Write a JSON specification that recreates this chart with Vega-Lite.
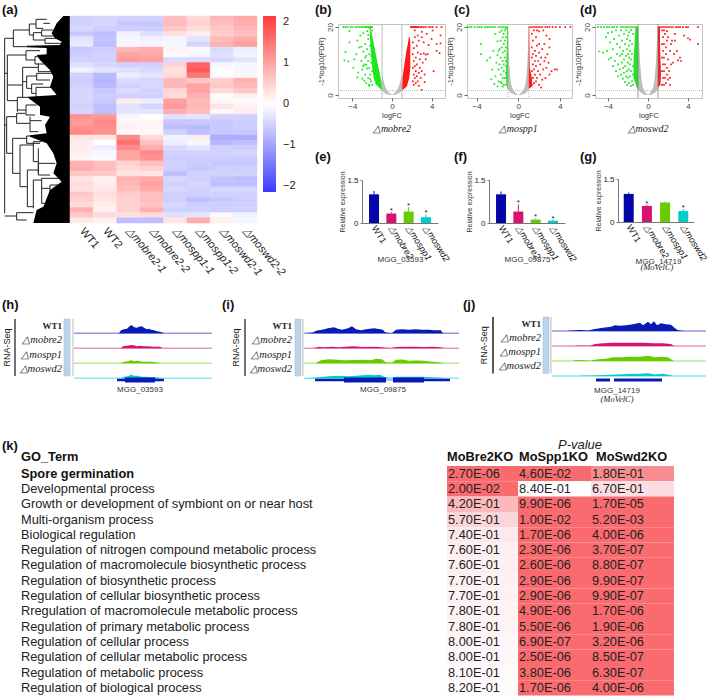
{"$schema":"https://vega.github.io/schema/vega-lite/v6.json","padding":0,"background":"white","bounds":"flush","spacing":0,
"datasets":{
"heat":[
{"r":1,"c":"WT1","v":-0.5},{"r":1,"c":"WT2","v":-0.45},{"r":1,"c":"△mobre2-1","v":-0.5},{"r":1,"c":"△mobre2-2","v":-0.5},{"r":1,"c":"△mospp1-1","v":0.7},{"r":1,"c":"△mospp1-2","v":0.45},{"r":1,"c":"△moswd2-1","v":0.8},{"r":1,"c":"△moswd2-2","v":0.95},
{"r":2,"c":"WT1","v":-0.5},{"r":2,"c":"WT2","v":-0.45},{"r":2,"c":"△mobre2-1","v":-0.6},{"r":2,"c":"△mobre2-2","v":-0.6},{"r":2,"c":"△mospp1-1","v":0.75},{"r":2,"c":"△mospp1-2","v":0.5},{"r":2,"c":"△moswd2-1","v":0.7},{"r":2,"c":"△moswd2-2","v":0.9},
{"r":3,"c":"WT1","v":-0.45},{"r":3,"c":"WT2","v":-0.55},{"r":3,"c":"△mobre2-1","v":-0.55},{"r":3,"c":"△mobre2-2","v":-0.55},{"r":3,"c":"△mospp1-1","v":0.6},{"r":3,"c":"△mospp1-2","v":0.4},{"r":3,"c":"△moswd2-1","v":0.6},{"r":3,"c":"△moswd2-2","v":0.8},
{"r":4,"c":"WT1","v":-0.6},{"r":4,"c":"WT2","v":-0.7},{"r":4,"c":"△mobre2-1","v":-0.15},{"r":4,"c":"△mobre2-2","v":-0.35},{"r":4,"c":"△mospp1-1","v":0.35},{"r":4,"c":"△mospp1-2","v":0.2},{"r":4,"c":"△moswd2-1","v":0.55},{"r":4,"c":"△moswd2-2","v":0.7},
{"r":5,"c":"WT1","v":-0.3},{"r":5,"c":"WT2","v":-0.65},{"r":5,"c":"△mobre2-1","v":-0.1},{"r":5,"c":"△mobre2-2","v":-0.15},{"r":5,"c":"△mospp1-1","v":-0.1},{"r":5,"c":"△mospp1-2","v":-0.3},{"r":5,"c":"△moswd2-1","v":0.75},{"r":5,"c":"△moswd2-2","v":0.9},
{"r":6,"c":"WT1","v":-0.25},{"r":6,"c":"WT2","v":-0.7},{"r":6,"c":"△mobre2-1","v":-0.1},{"r":6,"c":"△mobre2-2","v":-0.1},{"r":6,"c":"△mospp1-1","v":-0.1},{"r":6,"c":"△mospp1-2","v":-0.45},{"r":6,"c":"△moswd2-1","v":0.85},{"r":6,"c":"△moswd2-2","v":1.05},
{"r":7,"c":"WT1","v":-0.6},{"r":7,"c":"WT2","v":-0.55},{"r":7,"c":"△mobre2-1","v":0.8},{"r":7,"c":"△mobre2-2","v":0.9},{"r":7,"c":"△mospp1-1","v":0.15},{"r":7,"c":"△mospp1-2","v":0.05},{"r":7,"c":"△moswd2-1","v":-0.4},{"r":7,"c":"△moswd2-2","v":-0.2},
{"r":8,"c":"WT1","v":-0.55},{"r":8,"c":"WT2","v":-0.5},{"r":8,"c":"△mobre2-1","v":1.0},{"r":8,"c":"△mobre2-2","v":0.95},{"r":8,"c":"△mospp1-1","v":-0.05},{"r":8,"c":"△mospp1-2","v":-0.1},{"r":8,"c":"△moswd2-1","v":-0.35},{"r":8,"c":"△moswd2-2","v":-0.15},
{"r":9,"c":"WT1","v":-0.5},{"r":9,"c":"WT2","v":-0.5},{"r":9,"c":"△mobre2-1","v":1.1},{"r":9,"c":"△mobre2-2","v":1.05},{"r":9,"c":"△mospp1-1","v":-0.4},{"r":9,"c":"△mospp1-2","v":-0.4},{"r":9,"c":"△moswd2-1","v":-0.45},{"r":9,"c":"△moswd2-2","v":-0.3},
{"r":10,"c":"WT1","v":-0.35},{"r":10,"c":"WT2","v":-0.45},{"r":10,"c":"△mobre2-1","v":-0.5},{"r":10,"c":"△mobre2-2","v":-0.5},{"r":10,"c":"△mospp1-1","v":0.5},{"r":10,"c":"△mospp1-2","v":1.7},{"r":10,"c":"△moswd2-1","v":-0.1},{"r":10,"c":"△moswd2-2","v":-0.1},
{"r":11,"c":"WT1","v":-0.15},{"r":11,"c":"WT2","v":-0.3},{"r":11,"c":"△mobre2-1","v":-0.35},{"r":11,"c":"△mobre2-2","v":-0.4},{"r":11,"c":"△mospp1-1","v":0.35},{"r":11,"c":"△mospp1-2","v":1.8},{"r":11,"c":"△moswd2-1","v":0},{"r":11,"c":"△moswd2-2","v":-0.1},
{"r":12,"c":"WT1","v":-0.5},{"r":12,"c":"WT2","v":-0.75},{"r":12,"c":"△mobre2-1","v":-0.2},{"r":12,"c":"△mobre2-2","v":-0.3},{"r":12,"c":"△mospp1-1","v":0.4},{"r":12,"c":"△mospp1-2","v":1.5},{"r":12,"c":"△moswd2-1","v":-0.05},{"r":12,"c":"△moswd2-2","v":0.1},
{"r":13,"c":"WT1","v":-0.55},{"r":13,"c":"WT2","v":-0.8},{"r":13,"c":"△mobre2-1","v":-0.4},{"r":13,"c":"△mobre2-2","v":-0.45},{"r":13,"c":"△mospp1-1","v":0.8},{"r":13,"c":"△mospp1-2","v":0.6},{"r":13,"c":"△moswd2-1","v":0.55},{"r":13,"c":"△moswd2-2","v":0.85},
{"r":14,"c":"WT1","v":-0.5},{"r":14,"c":"WT2","v":-0.75},{"r":14,"c":"△mobre2-1","v":-0.5},{"r":14,"c":"△mobre2-2","v":-0.45},{"r":14,"c":"△mospp1-1","v":0.8},{"r":14,"c":"△mospp1-2","v":1.0},{"r":14,"c":"△moswd2-1","v":0.6},{"r":14,"c":"△moswd2-2","v":0.8},
{"r":15,"c":"WT1","v":-0.45},{"r":15,"c":"WT2","v":-0.6},{"r":15,"c":"△mobre2-1","v":-0.4},{"r":15,"c":"△mobre2-2","v":-0.5},{"r":15,"c":"△mospp1-1","v":0.45},{"r":15,"c":"△mospp1-2","v":1.0},{"r":15,"c":"△moswd2-1","v":0.4},{"r":15,"c":"△moswd2-2","v":0.6},
{"r":16,"c":"WT1","v":-0.45},{"r":16,"c":"WT2","v":-0.55},{"r":16,"c":"△mobre2-1","v":-0.5},{"r":16,"c":"△mobre2-2","v":-0.5},{"r":16,"c":"△mospp1-1","v":0.4},{"r":16,"c":"△mospp1-2","v":0.85},{"r":16,"c":"△moswd2-1","v":0.05},{"r":16,"c":"△moswd2-2","v":0.15},
{"r":17,"c":"WT1","v":-0.45},{"r":17,"c":"WT2","v":-0.6},{"r":17,"c":"△mobre2-1","v":0.2},{"r":17,"c":"△mobre2-2","v":-0.2},{"r":17,"c":"△mospp1-1","v":1.05},{"r":17,"c":"△mospp1-2","v":0.75},{"r":17,"c":"△moswd2-1","v":0.1},{"r":17,"c":"△moswd2-2","v":-0.05},
{"r":18,"c":"WT1","v":-0.5},{"r":18,"c":"WT2","v":-0.7},{"r":18,"c":"△mobre2-1","v":-0.3},{"r":18,"c":"△mobre2-2","v":-0.45},{"r":18,"c":"△mospp1-1","v":1.1},{"r":18,"c":"△mospp1-2","v":0.8},{"r":18,"c":"△moswd2-1","v":0.3},{"r":18,"c":"△moswd2-2","v":0.15},
{"r":19,"c":"WT1","v":-0.45},{"r":19,"c":"WT2","v":-0.7},{"r":19,"c":"△mobre2-1","v":-0.3},{"r":19,"c":"△mobre2-2","v":-0.3},{"r":19,"c":"△mospp1-1","v":0.9},{"r":19,"c":"△mospp1-2","v":0.7},{"r":19,"c":"△moswd2-1","v":0.1},{"r":19,"c":"△moswd2-2","v":0.2},
{"r":20,"c":"WT1","v":1.2},{"r":20,"c":"WT2","v":1.15},{"r":20,"c":"△mobre2-1","v":-0.1},{"r":20,"c":"△mobre2-2","v":0},{"r":20,"c":"△mospp1-1","v":-0.35},{"r":20,"c":"△mospp1-2","v":-0.3},{"r":20,"c":"△moswd2-1","v":-0.5},{"r":20,"c":"△moswd2-2","v":-0.5},
{"r":21,"c":"WT1","v":1.1},{"r":21,"c":"WT2","v":1.3},{"r":21,"c":"△mobre2-1","v":0.1},{"r":21,"c":"△mobre2-2","v":0.1},{"r":21,"c":"△mospp1-1","v":-0.6},{"r":21,"c":"△mospp1-2","v":-0.6},{"r":21,"c":"△moswd2-1","v":-0.6},{"r":21,"c":"△moswd2-2","v":-0.55},
{"r":22,"c":"WT1","v":1.2},{"r":22,"c":"WT2","v":1.25},{"r":22,"c":"△mobre2-1","v":0.15},{"r":22,"c":"△mobre2-2","v":0.1},{"r":22,"c":"△mospp1-1","v":-0.7},{"r":22,"c":"△mospp1-2","v":-0.75},{"r":22,"c":"△moswd2-1","v":-0.6},{"r":22,"c":"△moswd2-2","v":-0.55},
{"r":23,"c":"WT1","v":1.3},{"r":23,"c":"WT2","v":1.2},{"r":23,"c":"△mobre2-1","v":0.05},{"r":23,"c":"△mobre2-2","v":0.1},{"r":23,"c":"△mospp1-1","v":-0.5},{"r":23,"c":"△mospp1-2","v":-0.7},{"r":23,"c":"△moswd2-1","v":-0.6},{"r":23,"c":"△moswd2-2","v":-0.6},
{"r":24,"c":"WT1","v":0.3},{"r":24,"c":"WT2","v":0.3},{"r":24,"c":"△mobre2-1","v":1.3},{"r":24,"c":"△mobre2-2","v":0.4},{"r":24,"c":"△mospp1-1","v":-0.15},{"r":24,"c":"△mospp1-2","v":0.2},{"r":24,"c":"△moswd2-1","v":-0.9},{"r":24,"c":"△moswd2-2","v":-0.9},
{"r":25,"c":"WT1","v":0.2},{"r":25,"c":"WT2","v":0},{"r":25,"c":"△mobre2-1","v":1.55},{"r":25,"c":"△mobre2-2","v":0.7},{"r":25,"c":"△mospp1-1","v":-0.2},{"r":25,"c":"△mospp1-2","v":-0.1},{"r":25,"c":"△moswd2-1","v":-0.8},{"r":25,"c":"△moswd2-2","v":-0.7},
{"r":26,"c":"WT1","v":0.2},{"r":26,"c":"WT2","v":-0.2},{"r":26,"c":"△mobre2-1","v":1.3},{"r":26,"c":"△mobre2-2","v":0.9},{"r":26,"c":"△mospp1-1","v":-0.4},{"r":26,"c":"△mospp1-2","v":-0.3},{"r":26,"c":"△moswd2-1","v":-0.5},{"r":26,"c":"△moswd2-2","v":-0.55},
{"r":27,"c":"WT1","v":0.15},{"r":27,"c":"WT2","v":-0.1},{"r":27,"c":"△mobre2-1","v":1.0},{"r":27,"c":"△mobre2-2","v":1.3},{"r":27,"c":"△mospp1-1","v":-0.5},{"r":27,"c":"△mospp1-2","v":-0.5},{"r":27,"c":"△moswd2-1","v":-0.5},{"r":27,"c":"△moswd2-2","v":-0.45},
{"r":28,"c":"WT1","v":0.1},{"r":28,"c":"WT2","v":-0.05},{"r":28,"c":"△mobre2-1","v":1.0},{"r":28,"c":"△mobre2-2","v":1.2},{"r":28,"c":"△mospp1-1","v":-0.55},{"r":28,"c":"△mospp1-2","v":-0.55},{"r":28,"c":"△moswd2-1","v":-0.55},{"r":28,"c":"△moswd2-2","v":-0.55},
{"r":29,"c":"WT1","v":0.85},{"r":29,"c":"WT2","v":0.7},{"r":29,"c":"△mobre2-1","v":0.5},{"r":29,"c":"△mobre2-2","v":0.7},{"r":29,"c":"△mospp1-1","v":-0.5},{"r":29,"c":"△mospp1-2","v":-0.55},{"r":29,"c":"△moswd2-1","v":-0.6},{"r":29,"c":"△moswd2-2","v":-0.6},
{"r":30,"c":"WT1","v":0.9},{"r":30,"c":"WT2","v":0.75},{"r":30,"c":"△mobre2-1","v":0.4},{"r":30,"c":"△mobre2-2","v":0.5},{"r":30,"c":"△mospp1-1","v":-0.5},{"r":30,"c":"△mospp1-2","v":-0.6},{"r":30,"c":"△moswd2-1","v":-0.55},{"r":30,"c":"△moswd2-2","v":-0.55},
{"r":31,"c":"WT1","v":0.6},{"r":31,"c":"WT2","v":0.6},{"r":31,"c":"△mobre2-1","v":0.3},{"r":31,"c":"△mobre2-2","v":0.3},{"r":31,"c":"△mospp1-1","v":-0.7},{"r":31,"c":"△mospp1-2","v":-0.5},{"r":31,"c":"△moswd2-1","v":-0.5},{"r":31,"c":"△moswd2-2","v":-0.5},
{"r":32,"c":"WT1","v":0.3},{"r":32,"c":"WT2","v":0.15},{"r":32,"c":"△mobre2-1","v":0.85},{"r":32,"c":"△mobre2-2","v":0.95},{"r":32,"c":"△mospp1-1","v":-0.45},{"r":32,"c":"△mospp1-2","v":-0.5},{"r":32,"c":"△moswd2-1","v":-0.65},{"r":32,"c":"△moswd2-2","v":-0.7},
{"r":33,"c":"WT1","v":0.4},{"r":33,"c":"WT2","v":0.2},{"r":33,"c":"△mobre2-1","v":0.8},{"r":33,"c":"△mobre2-2","v":1.05},{"r":33,"c":"△mospp1-1","v":-0.5},{"r":33,"c":"△mospp1-2","v":-0.45},{"r":33,"c":"△moswd2-1","v":-0.7},{"r":33,"c":"△moswd2-2","v":-0.7},
{"r":34,"c":"WT1","v":0.35},{"r":34,"c":"WT2","v":0.25},{"r":34,"c":"△mobre2-1","v":0.7},{"r":34,"c":"△mobre2-2","v":0.95},{"r":34,"c":"△mospp1-1","v":-0.45},{"r":34,"c":"△mospp1-2","v":-0.5},{"r":34,"c":"△moswd2-1","v":-0.45},{"r":34,"c":"△moswd2-2","v":-0.45},
{"r":35,"c":"WT1","v":0.6},{"r":35,"c":"WT2","v":0.35},{"r":35,"c":"△mobre2-1","v":0.55},{"r":35,"c":"△mobre2-2","v":0.7},{"r":35,"c":"△mospp1-1","v":-0.5},{"r":35,"c":"△mospp1-2","v":-0.5},{"r":35,"c":"△moswd2-1","v":-0.5},{"r":35,"c":"△moswd2-2","v":-0.5},
{"r":36,"c":"WT1","v":0.5},{"r":36,"c":"WT2","v":0.3},{"r":36,"c":"△mobre2-1","v":0.5},{"r":36,"c":"△mobre2-2","v":0.7},{"r":36,"c":"△mospp1-1","v":-0.55},{"r":36,"c":"△mospp1-2","v":-0.7},{"r":36,"c":"△moswd2-1","v":-0.6},{"r":36,"c":"△moswd2-2","v":-0.55},
{"r":37,"c":"WT1","v":0.4},{"r":37,"c":"WT2","v":0.2},{"r":37,"c":"△mobre2-1","v":0.5},{"r":37,"c":"△mobre2-2","v":0.65},{"r":37,"c":"△mospp1-1","v":-0.45},{"r":37,"c":"△mospp1-2","v":-0.55},{"r":37,"c":"△moswd2-1","v":-0.55},{"r":37,"c":"△moswd2-2","v":-0.5},
{"r":38,"c":"WT1","v":0.85},{"r":38,"c":"WT2","v":0.15},{"r":38,"c":"△mobre2-1","v":0.5},{"r":38,"c":"△mobre2-2","v":0.85},{"r":38,"c":"△mospp1-1","v":-0.5},{"r":38,"c":"△mospp1-2","v":-0.5},{"r":38,"c":"△moswd2-1","v":-0.55},{"r":38,"c":"△moswd2-2","v":-0.5},
{"r":39,"c":"WT1","v":0.6},{"r":39,"c":"WT2","v":0.4},{"r":39,"c":"△mobre2-1","v":0.35},{"r":39,"c":"△mobre2-2","v":0.4},{"r":39,"c":"△mospp1-1","v":-0.35},{"r":39,"c":"△mospp1-2","v":-0.3},{"r":39,"c":"△moswd2-1","v":0.05},{"r":39,"c":"△moswd2-2","v":-0.15},
{"r":40,"c":"WT1","v":0.25},{"r":40,"c":"WT2","v":0.15},{"r":40,"c":"△mobre2-1","v":-0.7},{"r":40,"c":"△mobre2-2","v":-0.7},{"r":40,"c":"△mospp1-1","v":0.3},{"r":40,"c":"△mospp1-2","v":0.9},{"r":40,"c":"△moswd2-1","v":0.15},{"r":40,"c":"△moswd2-2","v":-0.1}
],
"tree":[
{"x":14,"x2":14,"y":85,"y2":610},{"x":14,"x2":40,"y":85,"y2":85},{"x":40,"x2":40,"y":60,"y2":110},{"x":40,"x2":88,"y":60,"y2":60},{"x":40,"x2":80,"y":110,"y2":110},{"x":88,"x2":88,"y":42,"y2":75},{"x":88,"x2":108,"y":42,"y2":42},{"x":88,"x2":100,"y":75,"y2":75},{"x":108,"x2":108,"y":28,"y2":55},{"x":108,"x2":140,"y":28,"y2":28},{"x":108,"x2":130,"y":55,"y2":55},{"x":130,"x2":150,"y":40,"y2":40},{"x":100,"x2":100,"y":68,"y2":90},{"x":100,"x2":125,"y":68,"y2":68},{"x":100,"x2":135,"y":90,"y2":90},{"x":125,"x2":125,"y":60,"y2":78},{"x":125,"x2":160,"y":60,"y2":60},{"x":125,"x2":170,"y":78,"y2":78},{"x":135,"x2":135,"y":85,"y2":100},{"x":135,"x2":185,"y":85,"y2":85},{"x":135,"x2":190,"y":100,"y2":100},
{"x":14,"x2":22,"y":190,"y2":190},{"x":22,"x2":22,"y":135,"y2":272},{"x":22,"x2":78,"y":135,"y2":135},{"x":78,"x2":78,"y":122,"y2":150},{"x":78,"x2":120,"y":122,"y2":122},{"x":78,"x2":105,"y":150,"y2":150},{"x":105,"x2":105,"y":140,"y2":162},{"x":105,"x2":150,"y":140,"y2":140},{"x":105,"x2":140,"y":162,"y2":162},{"x":22,"x2":68,"y":225,"y2":225},{"x":68,"x2":68,"y":172,"y2":262},{"x":68,"x2":115,"y":172,"y2":172},{"x":68,"x2":80,"y":215,"y2":215},{"x":115,"x2":115,"y":160,"y2":185},{"x":115,"x2":170,"y":185,"y2":185},{"x":80,"x2":80,"y":198,"y2":235},{"x":80,"x2":110,"y":198,"y2":198},{"x":80,"x2":95,"y":235,"y2":235},{"x":110,"x2":110,"y":190,"y2":210},{"x":110,"x2":160,"y":190,"y2":190},{"x":110,"x2":150,"y":210,"y2":210},{"x":95,"x2":95,"y":222,"y2":250},{"x":95,"x2":130,"y":222,"y2":222},{"x":95,"x2":108,"y":250,"y2":250},{"x":108,"x2":108,"y":232,"y2":265},{"x":108,"x2":165,"y":232,"y2":232},{"x":108,"x2":160,"y":265,"y2":265},{"x":22,"x2":52,"y":272,"y2":272},{"x":52,"x2":52,"y":262,"y2":305},{"x":52,"x2":88,"y":262,"y2":262},{"x":52,"x2":78,"y":300,"y2":300},{"x":78,"x2":78,"y":285,"y2":315},{"x":78,"x2":110,"y":285,"y2":285},{"x":78,"x2":105,"y":315,"y2":315},
{"x":14,"x2":20,"y":345,"y2":345},{"x":20,"x2":20,"y":320,"y2":430},{"x":20,"x2":50,"y":320,"y2":320},{"x":50,"x2":50,"y":310,"y2":340},{"x":50,"x2":75,"y":310,"y2":310},{"x":50,"x2":90,"y":340,"y2":340},{"x":90,"x2":90,"y":320,"y2":365},{"x":90,"x2":125,"y":332,"y2":332},{"x":90,"x2":115,"y":365,"y2":365},{"x":20,"x2":38,"y":430,"y2":430},{"x":38,"x2":38,"y":385,"y2":490},{"x":38,"x2":80,"y":385,"y2":385},{"x":80,"x2":80,"y":378,"y2":400},{"x":80,"x2":130,"y":378,"y2":378},{"x":80,"x2":120,"y":400,"y2":400},{"x":38,"x2":60,"y":490,"y2":490},{"x":60,"x2":60,"y":405,"y2":530},{"x":60,"x2":100,"y":405,"y2":405},{"x":100,"x2":100,"y":395,"y2":455},{"x":100,"x2":125,"y":395,"y2":395},{"x":100,"x2":115,"y":455,"y2":455},{"x":115,"x2":115,"y":415,"y2":490},{"x":60,"x2":82,"y":530,"y2":530},{"x":82,"x2":82,"y":480,"y2":590},{"x":82,"x2":115,"y":480,"y2":480},{"x":115,"x2":115,"y":460,"y2":495},{"x":115,"x2":165,"y":460,"y2":460},{"x":115,"x2":150,"y":495,"y2":495},{"x":82,"x2":100,"y":590,"y2":590},{"x":100,"x2":100,"y":510,"y2":595},{"x":100,"x2":125,"y":510,"y2":510},{"x":125,"x2":125,"y":505,"y2":580},{"x":125,"x2":180,"y":505,"y2":505},{"x":125,"x2":150,"y":535,"y2":535},{"x":150,"x2":150,"y":525,"y2":575},{"x":150,"x2":185,"y":525,"y2":525},{"x":150,"x2":170,"y":575,"y2":575},{"x":125,"x2":140,"y":580,"y2":580},
{"x":14,"x2":50,"y":618,"y2":618},{"x":50,"x2":50,"y":608,"y2":630},{"x":50,"x2":100,"y":608,"y2":608},{"x":50,"x2":80,"y":630,"y2":630}
],
"leaf":[{"y":18,"x":190},{"y":40,"x":170},{"y":70,"x":155},{"y":85,"x":165},{"y":95,"x":185},{"y":105,"x":180},{"y":107,"x":80},{"y":112,"x":80},{"y":114,"x":140},{"y":133,"x":140},{"y":135,"x":110},{"y":150,"x":120},{"y":180,"x":150},{"y":200,"x":160},{"y":230,"x":150},{"y":255,"x":170},{"y":260,"x":85},{"y":264,"x":85},{"y":290,"x":120},{"y":315,"x":120},{"y":320,"x":150},{"y":345,"x":135},{"y":370,"x":140},{"y":376,"x":90},{"y":380,"x":90},{"y":400,"x":140},{"y":430,"x":160},{"y":460,"x":170},{"y":490,"x":160},{"y":515,"x":185},{"y":540,"x":150},{"y":590,"x":130},{"y":600,"x":110},{"y":639,"x":100}],
"bArea":[{"s":"n1","k":"ns","y":0,"a":-0.3,"b":0},{"s":"n1","k":"ns","y":0.5,"a":-0.7,"b":-0.25},{"s":"n1","k":"ns","y":1.3,"a":-1,"b":-0.5},{"s":"n1","k":"ns","y":3,"a":-1,"b":-0.75},{"s":"n1","k":"ns","y":5,"a":-1,"b":-0.92},{"s":"n1","k":"ns","y":6,"a":-1,"b":-1},{"s":"n2","k":"ns","y":0,"a":0.3,"b":0},{"s":"n2","k":"ns","y":0.5,"a":0.7,"b":0.25},{"s":"n2","k":"ns","y":1.3,"a":1,"b":0.5},{"s":"n2","k":"ns","y":3,"a":1,"b":0.75},{"s":"n2","k":"ns","y":5,"a":1,"b":0.92},{"s":"n2","k":"ns","y":6,"a":1,"b":1},
{"s":"d","k":"down","y":1.3,"a":-1,"b":-1},{"s":"d","k":"down","y":3,"a":-1.6,"b":-1},{"s":"d","k":"down","y":5,"a":-1.85,"b":-1.15},{"s":"d","k":"down","y":8,"a":-2,"b":-1.35},{"s":"d","k":"down","y":10,"a":-2.05,"b":-1.5},{"s":"d","k":"down","y":13,"a":-2.15,"b":-1.7},{"s":"d","k":"down","y":16,"a":-2.2,"b":-1.9},{"s":"d","k":"down","y":19,"a":-2.25,"b":-2.1},
{"s":"u","k":"up","y":1.3,"a":1,"b":1},{"s":"u","k":"up","y":2.5,"a":1.5,"b":1},{"s":"u","k":"up","y":5,"a":1.75,"b":1.05},{"s":"u","k":"up","y":8,"a":1.85,"b":1.2},{"s":"u","k":"up","y":10,"a":1.85,"b":1.3},{"s":"u","k":"up","y":13,"a":1.85,"b":1.45},{"s":"u","k":"up","y":15,"a":1.85,"b":1.6},{"s":"u","k":"up","y":17,"a":1.8,"b":1.7}],
"cArea":[{"s":"n1","k":"ns","y":0,"a":-0.3,"b":-0.02},{"s":"n1","k":"ns","y":0.6,"a":-0.7,"b":-0.25},{"s":"n1","k":"ns","y":1.5,"a":-1,"b":-0.5},{"s":"n1","k":"ns","y":3,"a":-1,"b":-0.68},{"s":"n1","k":"ns","y":6,"a":-1,"b":-0.8},{"s":"n1","k":"ns","y":10,"a":-1,"b":-0.88},{"s":"n1","k":"ns","y":15,"a":-1,"b":-0.95},{"s":"n1","k":"ns","y":20,"a":-1,"b":-0.98},{"s":"n2","k":"ns","y":0,"a":0.3,"b":0.02},{"s":"n2","k":"ns","y":0.6,"a":0.7,"b":0.25},{"s":"n2","k":"ns","y":1.5,"a":1,"b":0.5},{"s":"n2","k":"ns","y":3,"a":1,"b":0.68},{"s":"n2","k":"ns","y":6,"a":1,"b":0.8},{"s":"n2","k":"ns","y":10,"a":1,"b":0.88},{"s":"n2","k":"ns","y":15,"a":1,"b":0.95},{"s":"n2","k":"ns","y":20,"a":1,"b":0.98},
{"s":"d","k":"down","y":2,"a":-1.08,"b":-1},{"s":"d","k":"down","y":5,"a":-1.2,"b":-1},{"s":"d","k":"down","y":10,"a":-1.15,"b":-1},{"s":"d","k":"down","y":15,"a":-1.1,"b":-1},{"s":"d","k":"down","y":20,"a":-1.1,"b":-1},
{"s":"u","k":"up","y":1.8,"a":1,"b":1},{"s":"u","k":"up","y":2.5,"a":1.35,"b":1},{"s":"u","k":"up","y":5,"a":1.3,"b":1},{"s":"u","k":"up","y":8,"a":1.1,"b":1},{"s":"u","k":"up","y":20,"a":1.05,"b":1},
{"s":"td","k":"down","y":19.8,"a":-2,"b":-1},{"s":"td","k":"down","y":20.2,"a":-2,"b":-1},{"s":"tu","k":"up","y":19.8,"a":1,"b":2.4},{"s":"tu","k":"up","y":20.2,"a":1,"b":2.4}],
"dArea":[{"s":"n1","k":"ns","y":0,"a":-0.3,"b":-0.02},{"s":"n1","k":"ns","y":0.6,"a":-0.65,"b":-0.2},{"s":"n1","k":"ns","y":1.5,"a":-1,"b":-0.42},{"s":"n1","k":"ns","y":3,"a":-1,"b":-0.58},{"s":"n1","k":"ns","y":6,"a":-1,"b":-0.7},{"s":"n1","k":"ns","y":10,"a":-1,"b":-0.8},{"s":"n1","k":"ns","y":15,"a":-1,"b":-0.88},{"s":"n1","k":"ns","y":20,"a":-1,"b":-0.95},{"s":"n2","k":"ns","y":0,"a":0.3,"b":0.02},{"s":"n2","k":"ns","y":0.6,"a":0.65,"b":0.2},{"s":"n2","k":"ns","y":1.5,"a":1,"b":0.42},{"s":"n2","k":"ns","y":3,"a":1,"b":0.58},{"s":"n2","k":"ns","y":6,"a":1,"b":0.7},{"s":"n2","k":"ns","y":10,"a":1,"b":0.8},{"s":"n2","k":"ns","y":15,"a":1,"b":0.88},{"s":"n2","k":"ns","y":20,"a":1,"b":0.95},
{"s":"d","k":"down","y":2,"a":-1.1,"b":-1},{"s":"d","k":"down","y":5,"a":-1.45,"b":-1},{"s":"d","k":"down","y":10,"a":-1.45,"b":-1},{"s":"d","k":"down","y":15,"a":-1.35,"b":-1},{"s":"d","k":"down","y":20,"a":-1.25,"b":-1},
{"s":"u","k":"up","y":2.2,"a":1,"b":1},{"s":"u","k":"up","y":3,"a":1.25,"b":1},{"s":"u","k":"up","y":6,"a":1.3,"b":1},{"s":"u","k":"up","y":10,"a":1.25,"b":1},{"s":"u","k":"up","y":15,"a":1.2,"b":1},{"s":"u","k":"up","y":20,"a":1.2,"b":1},
{"s":"td","k":"down","y":19.8,"a":-2.8,"b":-1},{"s":"td","k":"down","y":20.2,"a":-2.8,"b":-1},{"s":"tu","k":"up","y":19.8,"a":1,"b":2.6},{"s":"tu","k":"up","y":20.2,"a":1,"b":2.6}],
"bPts":[{"x":-4.8,"y":10.2,"k":"down"},{"x":-4.7,"y":12.7,"k":"down"},{"x":-4.4,"y":9.9,"k":"down"},{"x":-4.3,"y":18.8,"k":"down"},{"x":-4.3,"y":15.5,"k":"down"},{"x":-3.9,"y":8,"k":"down"},{"x":-3.8,"y":10.5,"k":"down"},{"x":-3.6,"y":12,"k":"down"},{"x":-3.5,"y":16,"k":"down"},{"x":-3.4,"y":6.6,"k":"down"},{"x":-3.3,"y":14,"k":"down"},{"x":-3.2,"y":17.5,"k":"down"},{"x":-3.1,"y":10,"k":"down"},{"x":-3,"y":7.5,"k":"down"},{"x":-3,"y":4.8,"k":"down"},{"x":-2.9,"y":12.8,"k":"down"},{"x":-2.9,"y":18.2,"k":"down"},{"x":-2.8,"y":9,"k":"down"},{"x":-2.7,"y":6,"k":"down"},{"x":-2.7,"y":15,"k":"down"},{"x":-2.6,"y":11.5,"k":"down"},{"x":-2.6,"y":3.5,"k":"down"},{"x":-2.5,"y":7.8,"k":"down"},{"x":-2.5,"y":18.8,"k":"down"},{"x":-2.5,"y":13.5,"k":"down"},{"x":-2.4,"y":5,"k":"down"},{"x":-2.4,"y":10,"k":"down"},{"x":-2.4,"y":16.5,"k":"down"},{"x":-2.3,"y":8,"k":"down"},{"x":-2.3,"y":3,"k":"down"},{"x":-2.3,"y":12,"k":"down"},{"x":-2.2,"y":19.5,"k":"down"},{"x":-2.2,"y":6,"k":"down"},{"x":-2.2,"y":14.5,"k":"down"},{"x":-2.1,"y":9.5,"k":"down"},{"x":-2.1,"y":17,"k":"down"},{"x":-2.1,"y":4,"k":"down"},{"x":-2.1,"y":11.5,"k":"down"},{"x":-2,"y":19,"k":"down"},{"x":-2,"y":7,"k":"down"},{"x":-2,"y":3,"k":"down"},{"x":-2.6,"y":8.9,"k":"down"},{"x":-3.5,"y":5.2,"k":"down"},{"x":-2.8,"y":4.2,"k":"down"},{"x":-3.1,"y":14.2,"k":"down"},{"x":-2.3,"y":2.7,"k":"down"},{"x":-2.7,"y":11,"k":"down"},{"x":-2.4,"y":17.7,"k":"down"},{"x":-2.9,"y":8.5,"k":"down"},{"x":-2.2,"y":4.6,"k":"down"},
{"x":2.1,"y":4,"k":"up"},{"x":2.1,"y":8,"k":"up"},{"x":2.1,"y":12,"k":"up"},{"x":2.1,"y":15.5,"k":"up"},{"x":2.2,"y":3,"k":"up"},{"x":2.2,"y":6,"k":"up"},{"x":2.2,"y":10,"k":"up"},{"x":2.2,"y":13.8,"k":"up"},{"x":2.3,"y":5,"k":"up"},{"x":2.3,"y":8.5,"k":"up"},{"x":2.3,"y":17,"k":"up"},{"x":2.4,"y":3.5,"k":"up"},{"x":2.4,"y":7,"k":"up"},{"x":2.4,"y":11,"k":"up"},{"x":2.5,"y":5.5,"k":"up"},{"x":2.5,"y":9,"k":"up"},{"x":2.5,"y":14.5,"k":"up"},{"x":2.6,"y":4,"k":"up"},{"x":2.6,"y":12.5,"k":"up"},{"x":2.7,"y":6.5,"k":"up"},{"x":2.7,"y":16,"k":"up"},{"x":2.8,"y":8,"k":"up"},{"x":2.8,"y":10.5,"k":"up"},{"x":2.9,"y":5,"k":"up"},{"x":2.9,"y":12,"k":"up"},{"x":3,"y":1.5,"k":"up"},{"x":3,"y":7,"k":"up"},{"x":3,"y":18.6,"k":"up"},{"x":3.1,"y":9.5,"k":"up"},{"x":3.2,"y":12.2,"k":"up"},{"x":3.2,"y":15.5,"k":"up"},{"x":3.3,"y":6,"k":"up"},{"x":3.4,"y":10.5,"k":"up"},{"x":3.5,"y":18,"k":"up"},{"x":3.6,"y":12,"k":"up"},{"x":3.7,"y":14.7,"k":"up"},{"x":4,"y":16.5,"k":"up"},{"x":4.1,"y":19,"k":"up"},{"x":4.2,"y":7,"k":"up"},{"x":4.5,"y":15,"k":"up"},{"x":4.9,"y":17.5,"k":"up"},{"x":4.9,"y":15.2,"k":"up"},{"x":4.8,"y":12.3,"k":"up"},{"x":4.5,"y":13,"k":"up"},{"x":3,"y":17,"k":"up"},{"x":2.6,"y":17.5,"k":"up"},{"x":2.3,"y":19,"k":"up"},{"x":2.7,"y":2.7,"k":"up"},{"x":3.3,"y":3.8,"k":"up"},{"x":3.4,"y":11.9,"k":"up"},
{"x":-4.9,"y":20,"k":"down"},{"x":-4.7,"y":20,"k":"down"},{"x":-4.5,"y":20,"k":"down"},{"x":-4.2,"y":20,"k":"down"},{"x":-4,"y":20,"k":"down"},{"x":-3.7,"y":20,"k":"down"},{"x":-3.5,"y":20,"k":"down"},{"x":-3.3,"y":20,"k":"down"},{"x":-3.1,"y":20,"k":"down"},{"x":-3,"y":20,"k":"down"},{"x":-2.8,"y":20,"k":"down"},{"x":-2.7,"y":20,"k":"down"},{"x":-2.6,"y":20,"k":"down"},{"x":-2.5,"y":20,"k":"down"},{"x":-2.4,"y":20,"k":"down"},{"x":-2.3,"y":20,"k":"down"},{"x":-2.2,"y":20,"k":"down"},{"x":-2.1,"y":20,"k":"down"},{"x":-2,"y":20,"k":"down"},
{"x":1.9,"y":20,"k":"up"},{"x":2,"y":20,"k":"up"},{"x":2.1,"y":20,"k":"up"},{"x":2.2,"y":20,"k":"up"},{"x":2.3,"y":20,"k":"up"},{"x":2.4,"y":20,"k":"up"},{"x":2.5,"y":20,"k":"up"},{"x":2.6,"y":20,"k":"up"},{"x":2.7,"y":20,"k":"up"},{"x":2.9,"y":20,"k":"up"},{"x":3,"y":20,"k":"up"},{"x":3.2,"y":20,"k":"up"},{"x":3.4,"y":20,"k":"up"},{"x":3.7,"y":20,"k":"up"},{"x":3.9,"y":20,"k":"up"},{"x":4.1,"y":20,"k":"up"},{"x":4.5,"y":20,"k":"up"},{"x":5,"y":20,"k":"up"}],
"cPts":[{"x":-3.6,"y":15,"k":"down"},{"x":-3.6,"y":12,"k":"down"},{"x":-3,"y":10.2,"k":"down"},{"x":-2.7,"y":11,"k":"down"},{"x":-2.5,"y":7.5,"k":"down"},{"x":-2.4,"y":13,"k":"down"},{"x":-2.2,"y":18,"k":"down"},{"x":-2.2,"y":5.5,"k":"down"},{"x":-2.1,"y":9.5,"k":"down"},{"x":-2,"y":11.7,"k":"down"},{"x":-2,"y":15.8,"k":"down"},{"x":-1.9,"y":7.5,"k":"down"},{"x":-1.9,"y":4,"k":"down"},{"x":-1.8,"y":13.5,"k":"down"},{"x":-1.8,"y":18.5,"k":"down"},{"x":-1.8,"y":9,"k":"down"},{"x":-1.7,"y":6,"k":"down"},{"x":-1.7,"y":11,"k":"down"},{"x":-1.7,"y":16,"k":"down"},{"x":-1.6,"y":3.5,"k":"down"},{"x":-1.6,"y":8,"k":"down"},{"x":-1.6,"y":14,"k":"down"},{"x":-1.6,"y":19,"k":"down"},{"x":-1.5,"y":5,"k":"down"},{"x":-1.5,"y":10,"k":"down"},{"x":-1.5,"y":12.5,"k":"down"},{"x":-1.5,"y":17,"k":"down"},{"x":-1.4,"y":7,"k":"down"},{"x":-1.4,"y":3,"k":"down"},{"x":-1.4,"y":9,"k":"down"},{"x":-1.4,"y":15,"k":"down"},{"x":-1.4,"y":18,"k":"down"},{"x":-1.3,"y":5,"k":"down"},{"x":-1.3,"y":11,"k":"down"},{"x":-1.3,"y":13,"k":"down"},{"x":-1.3,"y":16,"k":"down"},{"x":-1.3,"y":19,"k":"down"},{"x":-1.2,"y":3,"k":"down"},{"x":-1.2,"y":6.5,"k":"down"},{"x":-1.2,"y":8.5,"k":"down"},{"x":-1.2,"y":10,"k":"down"},{"x":-1.2,"y":14,"k":"down"},{"x":-1.2,"y":17,"k":"down"},{"x":-1.2,"y":19.5,"k":"down"},{"x":-1.7,"y":3.8,"k":"down"},{"x":-2,"y":2.5,"k":"down"},{"x":-2.3,"y":3.2,"k":"down"},{"x":-2.6,"y":4.6,"k":"down"},{"x":-1.9,"y":13,"k":"down"},{"x":-1.5,"y":2.5,"k":"down"},
{"x":1.3,"y":3,"k":"up"},{"x":1.3,"y":7,"k":"up"},{"x":1.3,"y":11,"k":"up"},{"x":1.3,"y":14,"k":"up"},{"x":1.3,"y":18,"k":"up"},{"x":1.4,"y":5,"k":"up"},{"x":1.4,"y":9,"k":"up"},{"x":1.4,"y":12,"k":"up"},{"x":1.4,"y":16,"k":"up"},{"x":1.5,"y":3.5,"k":"up"},{"x":1.5,"y":7.5,"k":"up"},{"x":1.5,"y":19,"k":"up"},{"x":1.6,"y":6,"k":"up"},{"x":1.6,"y":10,"k":"up"},{"x":1.6,"y":13,"k":"up"},{"x":1.7,"y":4,"k":"up"},{"x":1.7,"y":8.5,"k":"up"},{"x":1.7,"y":11.5,"k":"up"},{"x":1.7,"y":17,"k":"up"},{"x":1.8,"y":5,"k":"up"},{"x":1.8,"y":14.5,"k":"up"},{"x":1.8,"y":19,"k":"up"},{"x":1.9,"y":7,"k":"up"},{"x":1.9,"y":10,"k":"up"},{"x":2,"y":3,"k":"up"},{"x":2,"y":12.5,"k":"up"},{"x":2,"y":15,"k":"up"},{"x":2,"y":18.7,"k":"up"},{"x":2.1,"y":6,"k":"up"},{"x":2.1,"y":9,"k":"up"},{"x":2.2,"y":11,"k":"up"},{"x":2.3,"y":4.5,"k":"up"},{"x":2.3,"y":13.5,"k":"up"},{"x":2.4,"y":7.5,"k":"up"},{"x":2.4,"y":19,"k":"up"},{"x":2.5,"y":10,"k":"up"},{"x":2.5,"y":15,"k":"up"},{"x":2.6,"y":5,"k":"up"},{"x":2.6,"y":11,"k":"up"},{"x":2.7,"y":8,"k":"up"},{"x":2.7,"y":17.5,"k":"up"},{"x":2.8,"y":12,"k":"up"},{"x":2.9,"y":9.5,"k":"up"},{"x":3,"y":6,"k":"up"},{"x":3,"y":14,"k":"up"},{"x":3.2,"y":7,"k":"up"},{"x":3.5,"y":7.5,"k":"up"},{"x":3.7,"y":7.5,"k":"up"},{"x":3,"y":16.5,"k":"up"},{"x":2.2,"y":2.2,"k":"up"},
{"x":-4.9,"y":20,"k":"down"},{"x":-4.7,"y":20,"k":"down"},{"x":-4.5,"y":20,"k":"down"},{"x":-4.2,"y":20,"k":"down"},{"x":-3.9,"y":20,"k":"down"},{"x":-3.7,"y":20,"k":"down"},{"x":-3.5,"y":20,"k":"down"},{"x":-3.2,"y":20,"k":"down"},{"x":-3,"y":20,"k":"down"},{"x":-2.8,"y":20,"k":"down"},{"x":-2.6,"y":20,"k":"down"},{"x":-2.4,"y":20,"k":"down"},{"x":-2.2,"y":20,"k":"down"},{"x":2.6,"y":20,"k":"up"},{"x":2.8,"y":20,"k":"up"},{"x":3,"y":20,"k":"up"},{"x":3.3,"y":20,"k":"up"},{"x":3.6,"y":20,"k":"up"},{"x":4,"y":20,"k":"up"},{"x":4.5,"y":20,"k":"up"},{"x":5,"y":20,"k":"up"}],
"dPts":[{"x":-4.9,"y":12.8,"k":"down"},{"x":-4.5,"y":12.5,"k":"down"},{"x":-4.2,"y":17,"k":"down"},{"x":-4.1,"y":13,"k":"down"},{"x":-4,"y":18.3,"k":"down"},{"x":-3.9,"y":10.5,"k":"down"},{"x":-3.8,"y":15.5,"k":"down"},{"x":-3.7,"y":11,"k":"down"},{"x":-3.6,"y":18.5,"k":"down"},{"x":-3.5,"y":8.5,"k":"down"},{"x":-3.5,"y":13.5,"k":"down"},{"x":-3.4,"y":16.5,"k":"down"},{"x":-3.3,"y":10,"k":"down"},{"x":-3.2,"y":7,"k":"down"},{"x":-3.2,"y":19,"k":"down"},{"x":-3.1,"y":12,"k":"down"},{"x":-3.1,"y":15,"k":"down"},{"x":-3,"y":9,"k":"down"},{"x":-3,"y":5.5,"k":"down"},{"x":-2.9,"y":17.5,"k":"down"},{"x":-2.8,"y":11.5,"k":"down"},{"x":-2.8,"y":7.5,"k":"down"},{"x":-2.8,"y":14,"k":"down"},{"x":-2.7,"y":6,"k":"down"},{"x":-2.7,"y":19,"k":"down"},{"x":-2.6,"y":9.5,"k":"down"},{"x":-2.6,"y":12,"k":"down"},{"x":-2.6,"y":16,"k":"down"},{"x":-2.5,"y":4.8,"k":"down"},{"x":-2.5,"y":8,"k":"down"},{"x":-2.5,"y":13,"k":"down"},{"x":-2.4,"y":18,"k":"down"},{"x":-2.4,"y":6.5,"k":"down"},{"x":-2.4,"y":10.5,"k":"down"},{"x":-2.3,"y":15,"k":"down"},{"x":-2.3,"y":3.8,"k":"down"},{"x":-2.3,"y":8.5,"k":"down"},{"x":-2.2,"y":11.5,"k":"down"},{"x":-2.2,"y":19,"k":"down"},{"x":-2.2,"y":5.5,"k":"down"},{"x":-2.1,"y":13.5,"k":"down"},{"x":-2.1,"y":7,"k":"down"},{"x":-2.1,"y":16.5,"k":"down"},{"x":-2.1,"y":3,"k":"down"},{"x":-2,"y":9.5,"k":"down"},{"x":-2,"y":12,"k":"down"},{"x":-2,"y":17.5,"k":"down"},{"x":-2,"y":5,"k":"down"},{"x":-1.9,"y":14.5,"k":"down"},{"x":-1.9,"y":7.5,"k":"down"},{"x":-1.9,"y":11,"k":"down"},{"x":-1.9,"y":18.5,"k":"down"},{"x":-1.9,"y":3.5,"k":"down"},{"x":-1.8,"y":9,"k":"down"},{"x":-1.8,"y":16,"k":"down"},{"x":-1.8,"y":5.5,"k":"down"},{"x":-1.8,"y":13,"k":"down"},{"x":-1.7,"y":2.7,"k":"down"},{"x":-1.7,"y":7,"k":"down"},{"x":-1.7,"y":10.5,"k":"down"},{"x":-1.7,"y":19.2,"k":"down"},{"x":-1.6,"y":4,"k":"down"},{"x":-1.6,"y":15,"k":"down"},{"x":-1.6,"y":12,"k":"down"},{"x":-1.5,"y":8.5,"k":"down"},{"x":-1.5,"y":18,"k":"down"},{"x":-1.5,"y":3,"k":"down"},{"x":-1.5,"y":6,"k":"down"},
{"x":1.4,"y":3,"k":"up"},{"x":1.4,"y":7,"k":"up"},{"x":1.4,"y":11,"k":"up"},{"x":1.4,"y":15,"k":"up"},{"x":1.4,"y":19,"k":"up"},{"x":1.5,"y":5,"k":"up"},{"x":1.5,"y":9,"k":"up"},{"x":1.5,"y":13,"k":"up"},{"x":1.5,"y":17,"k":"up"},{"x":1.6,"y":3,"k":"up"},{"x":1.6,"y":7,"k":"up"},{"x":1.6,"y":11,"k":"up"},{"x":1.6,"y":15,"k":"up"},{"x":1.7,"y":5,"k":"up"},{"x":1.7,"y":9,"k":"up"},{"x":1.7,"y":18,"k":"up"},{"x":1.8,"y":3.5,"k":"up"},{"x":1.8,"y":12,"k":"up"},{"x":1.8,"y":14,"k":"up"},{"x":1.9,"y":6,"k":"up"},{"x":1.9,"y":8,"k":"up"},{"x":1.9,"y":16,"k":"up"},{"x":2,"y":4.5,"k":"up"},{"x":2,"y":10.5,"k":"up"},{"x":2,"y":17,"k":"up"},{"x":2.1,"y":7,"k":"up"},{"x":2.2,"y":13,"k":"up"},{"x":2.2,"y":5,"k":"up"},{"x":2.3,"y":9,"k":"up"},{"x":2.3,"y":15,"k":"up"},{"x":2.4,"y":16,"k":"up"},{"x":2.5,"y":9.5,"k":"up"},{"x":2.6,"y":12,"k":"up"},{"x":2.7,"y":18,"k":"up"},{"x":2.7,"y":16,"k":"up"},{"x":2.9,"y":13,"k":"up"},{"x":3,"y":10.2,"k":"up"},{"x":3.2,"y":11,"k":"up"},{"x":3.3,"y":10,"k":"up"},{"x":3.6,"y":17.5,"k":"up"},{"x":4,"y":16.7,"k":"up"},{"x":4.2,"y":16.3,"k":"up"},{"x":5,"y":15,"k":"up"},{"x":2.2,"y":3,"k":"up"},{"x":1.6,"y":19,"k":"up"},{"x":1.9,"y":18.8,"k":"up"},
{"x":-5,"y":20,"k":"down"},{"x":-4.7,"y":20,"k":"down"},{"x":-4.4,"y":20,"k":"down"},{"x":-4.1,"y":20,"k":"down"},{"x":-3.9,"y":20,"k":"down"},{"x":-3.6,"y":20,"k":"down"},{"x":-3.4,"y":20,"k":"down"},{"x":-3.1,"y":20,"k":"down"},{"x":2.8,"y":20,"k":"up"},{"x":3,"y":20,"k":"up"},{"x":3.2,"y":20,"k":"up"},{"x":3.5,"y":20,"k":"up"},{"x":3.8,"y":20,"k":"up"},{"x":4,"y":20,"k":"up"},{"x":5,"y":20,"k":"up"}],
"tH":[{"t":"WT1","x":45,"y":0},{"t":"WT1","x":47,"y":3},{"t":"WT1","x":50,"y":4},{"t":"WT1","x":53,"y":4.5},{"t":"WT1","x":56,"y":7.5},{"t":"WT1","x":58,"y":8},{"t":"WT1","x":60,"y":6},{"t":"WT1","x":63,"y":5.5},{"t":"WT1","x":65,"y":6.5},{"t":"WT1","x":68,"y":7},{"t":"WT1","x":70,"y":5.5},{"t":"WT1","x":73,"y":4},{"t":"WT1","x":75,"y":4.5},{"t":"WT1","x":77,"y":3.5},{"t":"WT1","x":80,"y":3},{"t":"WT1","x":83,"y":2},{"t":"WT1","x":86,"y":1.5},{"t":"WT1","x":89,"y":0.5},{"t":"WT1","x":90,"y":0},
{"t":"△mobre2","x":47,"y":0},{"t":"△mobre2","x":49,"y":2},{"t":"△mobre2","x":53,"y":2.5},{"t":"△mobre2","x":57,"y":3.3},{"t":"△mobre2","x":60,"y":3},{"t":"△mobre2","x":63,"y":2},{"t":"△mobre2","x":66,"y":2.5},{"t":"△mobre2","x":70,"y":2},{"t":"△mobre2","x":74,"y":2},{"t":"△mobre2","x":80,"y":1.5},{"t":"△mobre2","x":86,"y":1.5},{"t":"△mobre2","x":89,"y":0},
{"t":"△mospp1","x":47,"y":0},{"t":"△mospp1","x":50,"y":1.5},{"t":"△mospp1","x":54,"y":2},{"t":"△mospp1","x":57,"y":3},{"t":"△mospp1","x":60,"y":2},{"t":"△mospp1","x":64,"y":2.5},{"t":"△mospp1","x":68,"y":1.5},{"t":"△mospp1","x":73,"y":1.5},{"t":"△mospp1","x":78,"y":1.5},{"t":"△mospp1","x":84,"y":0.5},{"t":"△mospp1","x":88,"y":0},
{"t":"△moswd2","x":47,"y":0},{"t":"△moswd2","x":50,"y":1.5},{"t":"△moswd2","x":54,"y":2},{"t":"△moswd2","x":57,"y":3.5},{"t":"△moswd2","x":60,"y":2.5},{"t":"△moswd2","x":64,"y":2.5},{"t":"△moswd2","x":68,"y":1.5},{"t":"△moswd2","x":72,"y":1.5},{"t":"△moswd2","x":78,"y":1},{"t":"△moswd2","x":83,"y":1},{"t":"△moswd2","x":87,"y":0}],
"tI":[{"t":"WT1","x":3,"y":0.3},{"t":"WT1","x":9,"y":0.8},{"t":"WT1","x":12,"y":2.5},{"t":"WT1","x":18,"y":3.5},{"t":"WT1","x":24,"y":5},{"t":"WT1","x":30,"y":6},{"t":"WT1","x":34,"y":4.5},{"t":"WT1","x":38,"y":3.5},{"t":"WT1","x":44,"y":5},{"t":"WT1","x":48,"y":7},{"t":"WT1","x":52,"y":4},{"t":"WT1","x":57,"y":3},{"t":"WT1","x":62,"y":4},{"t":"WT1","x":70,"y":5},{"t":"WT1","x":79,"y":3.5},{"t":"WT1","x":81,"y":1},{"t":"WT1","x":85,"y":0.2},{"t":"WT1","x":88,"y":0.3},{"t":"WT1","x":92,"y":3.5},{"t":"WT1","x":98,"y":4},{"t":"WT1","x":105,"y":3.5},{"t":"WT1","x":112,"y":4},{"t":"WT1","x":118,"y":3.5},{"t":"WT1","x":125,"y":3.5},{"t":"WT1","x":130,"y":3},{"t":"WT1","x":137,"y":3},{"t":"WT1","x":138,"y":1},{"t":"WT1","x":140,"y":0},
{"t":"△mobre2","x":10,"y":0.3},{"t":"△mobre2","x":15,"y":1.5},{"t":"△mobre2","x":20,"y":1},{"t":"△mobre2","x":28,"y":1.5},{"t":"△mobre2","x":35,"y":1},{"t":"△mobre2","x":44,"y":1.8},{"t":"△mobre2","x":50,"y":2},{"t":"△mobre2","x":58,"y":1.2},{"t":"△mobre2","x":70,"y":1.5},{"t":"△mobre2","x":78,"y":1},{"t":"△mobre2","x":82,"y":0.5},{"t":"△mobre2","x":88,"y":0.3},{"t":"△mobre2","x":92,"y":1.2},{"t":"△mobre2","x":100,"y":1.5},{"t":"△mobre2","x":110,"y":1.5},{"t":"△mobre2","x":120,"y":1.3},{"t":"△mobre2","x":130,"y":1.5},{"t":"△mobre2","x":138,"y":0.8},{"t":"△mobre2","x":140,"y":0},
{"t":"△mospp1","x":12,"y":0.5},{"t":"△mospp1","x":17,"y":3},{"t":"△mospp1","x":25,"y":4},{"t":"△mospp1","x":33,"y":3.5},{"t":"△mospp1","x":40,"y":3},{"t":"△mospp1","x":50,"y":3.2},{"t":"△mospp1","x":60,"y":3.5},{"t":"△mospp1","x":67,"y":3},{"t":"△mospp1","x":72,"y":4.5},{"t":"△mospp1","x":78,"y":4},{"t":"△mospp1","x":82,"y":1},{"t":"△mospp1","x":88,"y":0.5},{"t":"△mospp1","x":92,"y":3.5},{"t":"△mospp1","x":98,"y":3.8},{"t":"△mospp1","x":105,"y":2.5},{"t":"△mospp1","x":112,"y":2.8},{"t":"△mospp1","x":120,"y":2.5},{"t":"△mospp1","x":128,"y":1.5},{"t":"△mospp1","x":135,"y":1},{"t":"△mospp1","x":140,"y":0},
{"t":"△moswd2","x":5,"y":0.3},{"t":"△moswd2","x":15,"y":1},{"t":"△moswd2","x":25,"y":2},{"t":"△moswd2","x":35,"y":2.5},{"t":"△moswd2","x":45,"y":2},{"t":"△moswd2","x":55,"y":2.8},{"t":"△moswd2","x":65,"y":3.5},{"t":"△moswd2","x":70,"y":3},{"t":"△moswd2","x":76,"y":3.5},{"t":"△moswd2","x":80,"y":1.5},{"t":"△moswd2","x":86,"y":0.3},{"t":"△moswd2","x":92,"y":1.5},{"t":"△moswd2","x":100,"y":1.5},{"t":"△moswd2","x":110,"y":1.5},{"t":"△moswd2","x":118,"y":1.5},{"t":"△moswd2","x":128,"y":1},{"t":"△moswd2","x":138,"y":0.5},{"t":"△moswd2","x":140,"y":0}],
"tJ":[{"t":"WT1","x":16,"y":0.3},{"t":"WT1","x":28,"y":1},{"t":"WT1","x":36,"y":0.5},{"t":"WT1","x":43,"y":2},{"t":"WT1","x":51,"y":3.5},{"t":"WT1","x":59,"y":4.5},{"t":"WT1","x":63,"y":6},{"t":"WT1","x":68,"y":5.5},{"t":"WT1","x":74,"y":6},{"t":"WT1","x":81,"y":7},{"t":"WT1","x":88,"y":8.5},{"t":"WT1","x":91,"y":6},{"t":"WT1","x":96,"y":9.5},{"t":"WT1","x":99,"y":7},{"t":"WT1","x":102,"y":10},{"t":"WT1","x":105,"y":6},{"t":"WT1","x":109,"y":8},{"t":"WT1","x":114,"y":7},{"t":"WT1","x":119,"y":6.5},{"t":"WT1","x":123,"y":3},{"t":"WT1","x":126,"y":0.8},{"t":"WT1","x":133,"y":0},
{"t":"△mobre2","x":21,"y":0.2},{"t":"△mobre2","x":28,"y":0.7},{"t":"△mobre2","x":38,"y":0.3},{"t":"△mobre2","x":43,"y":2},{"t":"△mobre2","x":51,"y":3},{"t":"△mobre2","x":61,"y":3.5},{"t":"△mobre2","x":71,"y":3.5},{"t":"△mobre2","x":81,"y":3.3},{"t":"△mobre2","x":91,"y":3.5},{"t":"△mobre2","x":101,"y":3},{"t":"△mobre2","x":111,"y":3},{"t":"△mobre2","x":119,"y":2},{"t":"△mobre2","x":122,"y":0},
{"t":"△mospp1","x":21,"y":0.5},{"t":"△mospp1","x":29,"y":1},{"t":"△mospp1","x":38,"y":0.3},{"t":"△mospp1","x":44,"y":1.5},{"t":"△mospp1","x":54,"y":2.5},{"t":"△mospp1","x":61,"y":4},{"t":"△mospp1","x":69,"y":4},{"t":"△mospp1","x":78,"y":4.5},{"t":"△mospp1","x":88,"y":4.5},{"t":"△mospp1","x":96,"y":5.5},{"t":"△mospp1","x":103,"y":4},{"t":"△mospp1","x":109,"y":4.5},{"t":"△mospp1","x":116,"y":4},{"t":"△mospp1","x":121,"y":0.5},
{"t":"△moswd2","x":28,"y":0.3},{"t":"△moswd2","x":41,"y":0.5},{"t":"△moswd2","x":54,"y":1},{"t":"△moswd2","x":64,"y":1.5},{"t":"△moswd2","x":78,"y":2},{"t":"△moswd2","x":88,"y":2.5},{"t":"△moswd2","x":96,"y":3},{"t":"△moswd2","x":103,"y":1.5},{"t":"△moswd2","x":111,"y":2.5},{"t":"△moswd2","x":119,"y":0.5},{"t":"△moswd2","x":121,"y":0}],
"tracks":[{"t":"WT1"},{"t":"△mobre2"},{"t":"△mospp1"},{"t":"△moswd2"}],
"go":[
{"term":"Spore germination","col":"MoBre2KO","label":"2.70E-06","p":2.7e-6},{"term":"Spore germination","col":"MoSpp1KO","label":"4.60E-02","p":0.046},{"term":"Spore germination","col":"MoSwd2KO","label":"1.80E-01","p":0.18},
{"term":"Developmental process","col":"MoBre2KO","label":"2.00E-02","p":0.02},{"term":"Developmental process","col":"MoSpp1KO","label":"8.40E-01","p":0.84},{"term":"Developmental process","col":"MoSwd2KO","label":"6.70E-01","p":0.67},
{"term":"Growth or development of symbiont on or near host","col":"MoBre2KO","label":"4.20E-01","p":0.42},{"term":"Growth or development of symbiont on or near host","col":"MoSpp1KO","label":"9.90E-06","p":9.9e-6},{"term":"Growth or development of symbiont on or near host","col":"MoSwd2KO","label":"1.70E-05","p":1.7e-5},
{"term":"Multi-organism process","col":"MoBre2KO","label":"5.70E-01","p":0.57},{"term":"Multi-organism process","col":"MoSpp1KO","label":"1.00E-02","p":0.01},{"term":"Multi-organism process","col":"MoSwd2KO","label":"5.20E-03","p":0.0052},
{"term":"Biological regulation","col":"MoBre2KO","label":"7.40E-01","p":0.74},{"term":"Biological regulation","col":"MoSpp1KO","label":"1.70E-06","p":1.7e-6},{"term":"Biological regulation","col":"MoSwd2KO","label":"4.00E-06","p":4e-6},
{"term":"Regulation of nitrogen compound metabolic process","col":"MoBre2KO","label":"7.60E-01","p":0.76},{"term":"Regulation of nitrogen compound metabolic process","col":"MoSpp1KO","label":"2.30E-06","p":2.3e-6},{"term":"Regulation of nitrogen compound metabolic process","col":"MoSwd2KO","label":"3.70E-07","p":3.7e-7},
{"term":"Regulation of macromolecule biosynthetic process","col":"MoBre2KO","label":"7.60E-01","p":0.76},{"term":"Regulation of macromolecule biosynthetic process","col":"MoSpp1KO","label":"2.60E-06","p":2.6e-6},{"term":"Regulation of macromolecule biosynthetic process","col":"MoSwd2KO","label":"8.80E-07","p":8.8e-7},
{"term":"Regulation of biosynthetic process","col":"MoBre2KO","label":"7.70E-01","p":0.77},{"term":"Regulation of biosynthetic process","col":"MoSpp1KO","label":"2.90E-06","p":2.9e-6},{"term":"Regulation of biosynthetic process","col":"MoSwd2KO","label":"9.90E-07","p":9.9e-7},
{"term":"Regulation of cellular biosynthetic process","col":"MoBre2KO","label":"7.70E-01","p":0.77},{"term":"Regulation of cellular biosynthetic process","col":"MoSpp1KO","label":"2.90E-06","p":2.9e-6},{"term":"Regulation of cellular biosynthetic process","col":"MoSwd2KO","label":"9.90E-07","p":9.9e-7},
{"term":"Rregulation of macromolecule metabolic process","col":"MoBre2KO","label":"7.80E-01","p":0.78},{"term":"Rregulation of macromolecule metabolic process","col":"MoSpp1KO","label":"4.90E-06","p":4.9e-6},{"term":"Rregulation of macromolecule metabolic process","col":"MoSwd2KO","label":"1.70E-06","p":1.7e-6},
{"term":"Regulation of primary metabolic process","col":"MoBre2KO","label":"7.80E-01","p":0.78},{"term":"Regulation of primary metabolic process","col":"MoSpp1KO","label":"5.50E-06","p":5.5e-6},{"term":"Regulation of primary metabolic process","col":"MoSwd2KO","label":"1.90E-06","p":1.9e-6},
{"term":"Regulation of cellular process","col":"MoBre2KO","label":"8.00E-01","p":0.8},{"term":"Regulation of cellular process","col":"MoSpp1KO","label":"6.90E-07","p":6.9e-7},{"term":"Regulation of cellular process","col":"MoSwd2KO","label":"3.20E-06","p":3.2e-6},
{"term":"Regulation of cellular metabolic process","col":"MoBre2KO","label":"8.00E-01","p":0.8},{"term":"Regulation of cellular metabolic process","col":"MoSpp1KO","label":"2.50E-06","p":2.5e-6},{"term":"Regulation of cellular metabolic process","col":"MoSwd2KO","label":"8.50E-07","p":8.5e-7},
{"term":"Regulation of metabolic process","col":"MoBre2KO","label":"8.10E-01","p":0.81},{"term":"Regulation of metabolic process","col":"MoSpp1KO","label":"3.80E-06","p":3.8e-6},{"term":"Regulation of metabolic process","col":"MoSwd2KO","label":"6.30E-07","p":6.3e-7},
{"term":"Regulation of biological process","col":"MoBre2KO","label":"8.20E-01","p":0.82},{"term":"Regulation of biological process","col":"MoSpp1KO","label":"1.70E-06","p":1.7e-6},{"term":"Regulation of biological process","col":"MoSwd2KO","label":"4.00E-06","p":4e-6}
],
"one":[{"z":1}]
},
"hconcat":[
{"bounds":"flush","spacing":0,"vconcat":[{"width":1,"height":16,"data":{"name":"one"},"mark":{"type":"point","opacity":0,"size":0,"strokeWidth":0},"encoding":{}},{"bounds":"flush","spacing":0,"hconcat":[
 {"width":4,"height":1,"data":{"name":"one"},"mark":{"type":"point","opacity":0,"size":0,"strokeWidth":0},"encoding":{}},
 {"width":66,"height":207,"title":{"text":"(a)","dx":-2,"offset":-1},"layer":[
  {"data":{"name":"tree"},"mark":{"type":"rule","color":"#222","strokeWidth":1},"encoding":{"x":{"field":"x","type":"quantitative","scale":{"domain":[12,210],"nice":false,"zero":false},"axis":null},"x2":{"field":"x2"},"y":{"field":"y","type":"quantitative","scale":{"domain":[639,18],"nice":false,"zero":false},"axis":null},"y2":{"field":"y2"}}},
  {"data":{"name":"leaf"},"mark":{"type":"area","orient":"horizontal","color":"#000"},"encoding":{"y":{"field":"y","type":"quantitative","axis":null},"x":{"field":"x","type":"quantitative","axis":null},"x2":{"datum":210}}}
 ]},
 {"width":187,"height":207,"data":{"name":"heat"},"mark":{"type":"rect","strokeWidth":0.5},"encoding":{
  "x":{"field":"c","type":"nominal","sort":["WT1","WT2","△mobre2-1","△mobre2-2","△mospp1-1","△mospp1-2","△moswd2-1","△moswd2-2"],"axis":{"title":null,"labelAngle":50,"labelAlign":"left","labelBaseline":"middle","ticks":false,"domain":false,"labelFontSize":11,"labelColor":"#222","labelPadding":6,"labelFontStyle":{"condition":{"test":"datum.value[0]=='W'","value":"normal"},"value":"italic"}}},
  "y":{"field":"r","type":"ordinal","axis":null},
  "stroke":{"field":"v","type":"quantitative","legend":null,"scale":{"domain":[-2.15,0,2.15],"range":["#3a3aff","#ffffff","#ff3a3a"],"interpolate":"rgb"}},
  "color":{"field":"v","type":"quantitative","scale":{"domain":[-2.15,0,2.15],"range":["#3a3aff","#ffffff","#ff3a3a"],"interpolate":"rgb"},"legend":{"orient":"none","legendX":263,"legendY":16,"title":null,"gradientLength":176,"gradientThickness":13,"values":[2,1,0,-1,-2],"labelFontSize":11,"labelColor":"#222","labelOffset":7,"direction":"vertical","labelOverlap":false,"gradientStrokeWidth":0}}
 }}
]}]},
{"bounds":"flush","spacing":0,"vconcat":[{"width":1,"height":24,"data":{"name":"one"},"mark":{"type":"point","opacity":0,"size":0,"strokeWidth":0},"encoding":{}},{"bounds":"flush","spacing":0,"hconcat":[
 {"width":338,"height":1,"data":{"name":"one"},"mark":{"type":"point","opacity":0,"size":0,"strokeWidth":0},"encoding":{}},
 {"width":107,"height":74,"view":{"stroke":"#c4c4c4"},"title":{"text":"(b)","dx":-23,"offset":6},"layer":[
  {"data":{"name":"bArea"},"mark":{"type":"area","orient":"horizontal"},"encoding":{"y":{"field":"y","type":"quantitative","scale":{"domain":[-0.9,20.9],"nice":false,"zero":false},"axis":{"values":[0,5,10,15,20],"labelAngle":-90,"labelAlign":"center","labelBaseline":"bottom","labelFontSize":8,"labelColor":"#444","tickColor":"#666","tickSize":3,"domain":false,"labelPadding":1,"title":"-1*log10(FDR)","titleFontSize":7.5,"titleColor":"#333","titlePadding":1}},"x":{"field":"a","type":"quantitative","scale":{"domain":[-5.45,5.35],"nice":false,"zero":false},"axis":{"values":[-4,-2,0,2,4],"labelFontSize":8,"labelColor":"#444","tickColor":"#666","tickSize":3,"domain":false,"labelPadding":1,"title":"logFC","titleFontSize":7.5,"titleColor":"#333","titlePadding":1}},"x2":{"field":"b"},"detail":{"field":"s"},"color":{"field":"k","type":"nominal","scale":{"domain":["ns","down","up"],"range":["#bdbdbd","#1ee61e","#ff1a1a"]},"legend":null}}},
  {"data":{"name":"bPts"},"mark":{"type":"square","size":3,"opacity":1},"encoding":{"x":{"field":"x","type":"quantitative"},"y":{"field":"y","type":"quantitative"},"color":{"field":"k","type":"nominal"}}},
  {"data":{"name":"one"},"mark":{"type":"rule","color":"#bbb","strokeWidth":1},"encoding":{"x":{"datum":-1}}},
  {"data":{"name":"one"},"mark":{"type":"rule","color":"#bbb","strokeWidth":1},"encoding":{"x":{"datum":1}}},
  {"data":{"name":"one"},"mark":{"type":"rule","color":"#bbb","strokeWidth":1,"strokeDash":[1,1]},"encoding":{"y":{"datum":1.3}}},
  {"data":{"values":[{"t":"△mobre2"}]},"mark":{"type":"text","font":"Liberation Serif","fontStyle":"italic","fontSize":10,"color":"#222"},"encoding":{"text":{"field":"t"},"x":{"datum":0},"y":{"datum":-9.9}}}
 ]},
 {"width":22,"height":1,"data":{"name":"one"},"mark":{"type":"point","opacity":0,"size":0,"strokeWidth":0},"encoding":{}},
 {"width":105,"height":74,"view":{"stroke":"#c4c4c4"},"title":{"text":"(c)","dx":-13,"offset":6},"layer":[
  {"data":{"name":"cArea"},"mark":{"type":"area","orient":"horizontal"},"encoding":{"y":{"field":"y","type":"quantitative","scale":{"domain":[-0.9,20.9],"nice":false,"zero":false},"axis":{"values":[0,5,10,15,20],"labelAngle":-90,"labelAlign":"center","labelBaseline":"bottom","labelFontSize":8,"labelColor":"#444","tickColor":"#666","tickSize":3,"domain":false,"labelPadding":1,"title":"-1*log10(FDR)","titleFontSize":7.5,"titleColor":"#333","titlePadding":1}},"x":{"field":"a","type":"quantitative","scale":{"domain":[-4.93,5.16],"nice":false,"zero":false},"axis":{"values":[-4,-2,0,2,4],"labelFontSize":8,"labelColor":"#444","tickColor":"#666","tickSize":3,"domain":false,"labelPadding":1,"title":"logFC","titleFontSize":7.5,"titleColor":"#333","titlePadding":1}},"x2":{"field":"b"},"detail":{"field":"s"},"color":{"field":"k","type":"nominal","scale":{"domain":["ns","down","up"],"range":["#bdbdbd","#1ee61e","#ff1a1a"]},"legend":null}}},
  {"data":{"name":"cPts"},"mark":{"type":"square","size":3,"opacity":1},"encoding":{"x":{"field":"x","type":"quantitative"},"y":{"field":"y","type":"quantitative"},"color":{"field":"k","type":"nominal"}}},
  {"data":{"name":"one"},"mark":{"type":"rule","color":"#999","strokeWidth":0.7,"strokeDash":[1,1]},"encoding":{"x":{"datum":-1}}},
  {"data":{"name":"one"},"mark":{"type":"rule","color":"#999","strokeWidth":0.7,"strokeDash":[1,1]},"encoding":{"x":{"datum":1}}},
  {"data":{"name":"one"},"mark":{"type":"rule","color":"#bbb","strokeWidth":1,"strokeDash":[1,1]},"encoding":{"y":{"datum":1.3}}},
  {"data":{"values":[{"t":"△mospp1"}]},"mark":{"type":"text","font":"Liberation Serif","fontStyle":"italic","fontSize":10,"color":"#222"},"encoding":{"text":{"field":"t"},"x":{"datum":0},"y":{"datum":-9.9}}}
 ]},
 {"width":23,"height":1,"data":{"name":"one"},"mark":{"type":"point","opacity":0,"size":0,"strokeWidth":0},"encoding":{}},
 {"width":107,"height":74,"view":{"stroke":"#c4c4c4"},"title":{"text":"(d)","dx":-15,"offset":6},"layer":[
  {"data":{"name":"dArea"},"mark":{"type":"area","orient":"horizontal"},"encoding":{"y":{"field":"y","type":"quantitative","scale":{"domain":[-0.9,20.9],"nice":false,"zero":false},"axis":{"values":[0,5,10,15,20],"labelAngle":-90,"labelAlign":"center","labelBaseline":"bottom","labelFontSize":8,"labelColor":"#444","tickColor":"#666","tickSize":3,"domain":false,"labelPadding":1,"title":"-1*log10(FDR)","titleFontSize":7.5,"titleColor":"#333","titlePadding":1}},"x":{"field":"a","type":"quantitative","scale":{"domain":[-5.3,5.4],"nice":false,"zero":false},"axis":{"values":[-4,-2,0,2,4],"labelFontSize":8,"labelColor":"#444","tickColor":"#666","tickSize":3,"domain":false,"labelPadding":1,"title":"logFC","titleFontSize":7.5,"titleColor":"#333","titlePadding":1}},"x2":{"field":"b"},"detail":{"field":"s"},"color":{"field":"k","type":"nominal","scale":{"domain":["ns","down","up"],"range":["#bdbdbd","#1ee61e","#ff1a1a"]},"legend":null}}},
  {"data":{"name":"dPts"},"mark":{"type":"square","size":3,"opacity":1},"encoding":{"x":{"field":"x","type":"quantitative"},"y":{"field":"y","type":"quantitative"},"color":{"field":"k","type":"nominal"}}},
  {"data":{"name":"one"},"mark":{"type":"rule","color":"#777","strokeWidth":0.7},"encoding":{"x":{"datum":-1}}},
  {"data":{"name":"one"},"mark":{"type":"rule","color":"#777","strokeWidth":0.7},"encoding":{"x":{"datum":1}}},
  {"data":{"name":"one"},"mark":{"type":"rule","color":"#bbb","strokeWidth":1,"strokeDash":[1,1]},"encoding":{"y":{"datum":1.3}}},
  {"data":{"values":[{"t":"△moswd2"}]},"mark":{"type":"text","font":"Liberation Serif","fontStyle":"italic","fontSize":10,"color":"#222"},"encoding":{"text":{"field":"t"},"x":{"datum":0},"y":{"datum":-9.9}}}
 ]}
]}]},
{"bounds":"flush","spacing":0,"vconcat":[{"width":1,"height":180,"data":{"name":"one"},"mark":{"type":"point","opacity":0,"size":0,"strokeWidth":0},"encoding":{}},{"bounds":"flush","spacing":0,"hconcat":[
 {"width":362,"height":1,"data":{"name":"one"},"mark":{"type":"point","opacity":0,"size":0,"strokeWidth":0},"encoding":{}},
 {"width":76,"height":43,"title":{"text":"(e)","dx":-47,"offset":7},"data":{"values":[{"g":"WT1","v":1,"e":1.12,"s":""},{"g":"△mobre2","v":0.33,"e":0.38,"s":"*"},{"g":"△mospp1","v":0.4,"e":0.55,"s":"*"},{"g":"△moswd2","v":0.2,"e":0.3,"s":"*"}]},"encoding":{"x":{"field":"g","type":"nominal","sort":["WT1","△mobre2","△mospp1","△moswd2"],"scale":{"paddingInner":0.42,"paddingOuter":0.405},"axis":{"labelAngle":58,"labelAlign":"left","labelBaseline":"middle","labelFontSize":9,"labelColor":"#111","ticks":false,"domainColor":"#777","labelPadding":3,"title":"MGG_03593","titleFontSize":8,"titleColor":"#333","titleX":38,"titleY":32,"labelFontStyle":{"condition":{"test":"datum.value[0]=='W'","value":"normal"},"value":"italic"}}}},"layer":[
  {"mark":{"type":"rule","strokeWidth":1},"encoding":{"y":{"field":"v","type":"quantitative"},"y2":{"field":"e"},"color":{"field":"g","type":"nominal","legend":null,"scale":{"domain":["WT1","△mobre2","△mospp1","△moswd2"],"range":["#0505a8","#d6146f","#66cc00","#00cccc"]}}}},
  {"mark":{"type":"bar","size":10},"encoding":{"y":{"field":"v","type":"quantitative","scale":{"domain":[0,1.5],"nice":false},"axis":{"values":[0,0.5,1,1.5],"labelExpr":"''+datum.value","labelFontSize":8,"labelColor":"#222","tickSize":2,"tickColor":"#777","domainColor":"#777","labelPadding":2,"title":"Relative expression","titleFontSize":7,"titleColor":"#333","titlePadding":1}},"y2":{"datum":0},"color":{"field":"g","type":"nominal"}}},
  {"mark":{"type":"text","fontSize":8,"dy":-1,"color":"#222"},"encoding":{"y":{"field":"e","type":"quantitative"},"text":{"field":"s"}}}
 ]},
 {"width":51,"height":1,"data":{"name":"one"},"mark":{"type":"point","opacity":0,"size":0,"strokeWidth":0},"encoding":{}},
 {"width":76,"height":43,"title":{"text":"(f)","dx":-35,"offset":7},"data":{"values":[{"g":"WT1","v":1,"e":1.1,"s":""},{"g":"△mobre2","v":0.4,"e":0.65,"s":"*"},{"g":"△mospp1","v":0.12,"e":0.16,"s":"*"},{"g":"△moswd2","v":0.08,"e":0.12,"s":"*"}]},"encoding":{"x":{"field":"g","type":"nominal","sort":["WT1","△mobre2","△mospp1","△moswd2"],"scale":{"paddingInner":0.42,"paddingOuter":0.405},"axis":{"labelAngle":58,"labelAlign":"left","labelBaseline":"middle","labelFontSize":9,"labelColor":"#111","ticks":false,"domainColor":"#777","labelPadding":3,"title":"MGG_09875","titleFontSize":8,"titleColor":"#333","titleX":38,"titleY":32,"labelFontStyle":{"condition":{"test":"datum.value[0]=='W'","value":"normal"},"value":"italic"}}}},"layer":[
  {"mark":{"type":"rule","strokeWidth":1},"encoding":{"y":{"field":"v","type":"quantitative"},"y2":{"field":"e"},"color":{"field":"g","type":"nominal","legend":null,"scale":{"domain":["WT1","△mobre2","△mospp1","△moswd2"],"range":["#0505a8","#d6146f","#66cc00","#00cccc"]}}}},
  {"mark":{"type":"bar","size":10},"encoding":{"y":{"field":"v","type":"quantitative","scale":{"domain":[0,1.5],"nice":false},"axis":{"values":[0,0.5,1,1.5],"labelExpr":"''+datum.value","labelFontSize":8,"labelColor":"#222","tickSize":2,"tickColor":"#777","domainColor":"#777","labelPadding":2,"title":"Relative expression","titleFontSize":7,"titleColor":"#333","titlePadding":1}},"y2":{"datum":0},"color":{"field":"g","type":"nominal"}}},
  {"mark":{"type":"text","fontSize":8,"dy":-1,"color":"#222"},"encoding":{"y":{"field":"e","type":"quantitative"},"text":{"field":"s"}}}
 ]}
]}]},
{"bounds":"flush","spacing":0,"vconcat":[{"width":1,"height":179,"data":{"name":"one"},"mark":{"type":"point","opacity":0,"size":0,"strokeWidth":0},"encoding":{}},{"bounds":"flush","spacing":0,"hconcat":[
 {"width":618,"height":1,"data":{"name":"one"},"mark":{"type":"point","opacity":0,"size":0,"strokeWidth":0},"encoding":{}},
 {"width":76,"height":43,"title":{"text":"(g)","dx":-38,"offset":6},"data":{"values":[{"g":"WT1","v":0.98,"e":1.03,"s":""},{"g":"△mobre2","v":0.56,"e":0.6,"s":"*"},{"g":"△mospp1","v":0.68,"e":0.72,"s":""},{"g":"△moswd2","v":0.38,"e":0.45,"s":"*"}]},"encoding":{"x":{"field":"g","type":"nominal","sort":["WT1","△mobre2","△mospp1","△moswd2"],"scale":{"paddingInner":0.42,"paddingOuter":0.3},"axis":{"labelAngle":58,"labelAlign":"left","labelBaseline":"middle","labelFontSize":9,"labelColor":"#111","ticks":false,"domainColor":"#777","labelPadding":3,"title":"MGG_14719","titleFontSize":8,"titleColor":"#333","titleX":40,"titleY":35,"labelFontStyle":{"condition":{"test":"datum.value[0]=='W'","value":"normal"},"value":"italic"}}}},"layer":[
  {"mark":{"type":"rule","strokeWidth":1},"encoding":{"y":{"field":"v","type":"quantitative"},"y2":{"field":"e"},"color":{"field":"g","type":"nominal","legend":null,"scale":{"domain":["WT1","△mobre2","△mospp1","△moswd2"],"range":["#0505a8","#d6146f","#66cc00","#00cccc"]}}}},
  {"mark":{"type":"bar","size":10},"encoding":{"y":{"field":"v","type":"quantitative","scale":{"domain":[0,1.5],"nice":false},"axis":{"values":[0,0.5,1,1.5],"labelExpr":"''+datum.value","labelFontSize":8,"labelColor":"#222","tickSize":2,"tickColor":"#777","domainColor":"#777","labelPadding":2,"title":"Relative expression","titleFontSize":7,"titleColor":"#333","titlePadding":1}},"y2":{"datum":0},"color":{"field":"g","type":"nominal"}}},
  {"mark":{"type":"text","fontSize":8,"dy":-1,"color":"#222"},"encoding":{"y":{"field":"e","type":"quantitative"},"text":{"field":"s"}}},
  {"data":{"values":[{"g":"△mobre2","t":"(MoVelC)"}]},"mark":{"type":"text","font":"Liberation Serif","fontStyle":"italic","fontSize":8.5,"dx":10,"color":"#222"},"encoding":{"y":{"datum":-1.57},"text":{"field":"t"}}}
 ]}
]}]},
{"bounds":"flush","spacing":0,"vconcat":[{"width":1,"height":319,"data":{"name":"one"},"mark":{"type":"point","opacity":0,"size":0,"strokeWidth":0},"encoding":{}},{"bounds":"flush","spacing":0,"hconcat":[
 {"width":74,"height":57,"title":{"text":"(h)","dx":2,"offset":6},"layer":[
  {"data":{"name":"one"},"mark":{"type":"rect","color":"#bcd4ea","stroke":"#9fb8d0","strokeWidth":0.5},"encoding":{"x":{"datum":-10,"scale":{"domain":[-74,0],"nice":false,"zero":false},"axis":null},"x2":{"datum":-4}}},
  {"data":{"name":"one"},"mark":{"type":"rule","color":"#bbb"},"encoding":{"x":{"datum":-1,"axis":null}}},
  {"data":{"name":"one"},"mark":{"type":"rule","color":"#444","strokeWidth":1.5},"encoding":{"x":{"datum":-59,"axis":null}}},
  {"data":{"values":[{"t":"RNA-Seq"}]},"mark":{"type":"text","angle":270,"fontSize":9,"color":"#222"},"encoding":{"x":{"datum":-67,"axis":null},"text":{"field":"t"}}},
  {"data":{"name":"tracks"},"transform":[{"filter":"datum.t=='WT1'"}],"mark":{"type":"text","align":"right","font":"Liberation Serif","fontWeight":"bold","fontSize":9,"color":"#222"},"encoding":{"x":{"datum":-12,"axis":null},"y":{"field":"t","type":"nominal","scale":{"domain":["WT1","△mobre2","△mospp1","△moswd2"]},"axis":null},"text":{"field":"t"}}},
  {"data":{"name":"tracks"},"transform":[{"filter":"datum.t!='WT1'"}],"mark":{"type":"text","align":"right","font":"Liberation Serif","fontStyle":"italic","fontSize":10.5,"color":"#222"},"encoding":{"x":{"datum":-12,"axis":null},"y":{"field":"t","type":"nominal","axis":null},"text":{"field":"t"}}}
 ]},
 {"bounds":"flush","spacing":0,"vconcat":[
  {"width":138,"height":14.25,"layer":[{"data":{"name":"one"},"mark":{"type":"rule","color":"#0a1ab4","strokeWidth":1.5,"opacity":0.45},"encoding":{"x":{"datum":0,"scale":{"domain":[0,138],"nice":false,"zero":false},"axis":null},"x2":{"datum":138},"y":{"datum":0,"scale":{"domain":[0,14.25],"nice":false},"axis":null}}},{"data":{"name":"tH"},"transform":[{"filter":"datum.t=='WT1'"}],"mark":{"type":"area","color":"#0a1ab4"},"encoding":{"x":{"field":"x","type":"quantitative","axis":null},"y":{"field":"y","type":"quantitative","stack":null,"axis":null}}}]},
  {"width":138,"height":14.25,"layer":[{"data":{"name":"one"},"mark":{"type":"rule","color":"#d6146f","strokeWidth":1.5,"opacity":0.45},"encoding":{"x":{"datum":0,"scale":{"domain":[0,138],"nice":false,"zero":false},"axis":null},"x2":{"datum":138},"y":{"datum":0,"scale":{"domain":[0,14.25],"nice":false},"axis":null}}},{"data":{"name":"tH"},"transform":[{"filter":"datum.t=='△mobre2'"}],"mark":{"type":"area","color":"#d6146f"},"encoding":{"x":{"field":"x","type":"quantitative","axis":null},"y":{"field":"y","type":"quantitative","stack":null,"axis":null}}}]},
  {"width":138,"height":14.25,"layer":[{"data":{"name":"one"},"mark":{"type":"rule","color":"#66cc00","strokeWidth":1.5,"opacity":0.45},"encoding":{"x":{"datum":0,"scale":{"domain":[0,138],"nice":false,"zero":false},"axis":null},"x2":{"datum":138},"y":{"datum":0,"scale":{"domain":[0,14.25],"nice":false},"axis":null}}},{"data":{"name":"tH"},"transform":[{"filter":"datum.t=='△mospp1'"}],"mark":{"type":"area","color":"#66cc00"},"encoding":{"x":{"field":"x","type":"quantitative","axis":null},"y":{"field":"y","type":"quantitative","stack":null,"axis":null}}}]},
  {"width":138,"height":14.25,"layer":[{"data":{"name":"one"},"mark":{"type":"rule","color":"#00cccc","strokeWidth":1.5,"opacity":0.45},"encoding":{"x":{"datum":0,"scale":{"domain":[0,138],"nice":false,"zero":false},"axis":null},"x2":{"datum":138},"y":{"datum":0,"scale":{"domain":[0,14.25],"nice":false},"axis":null}}},{"data":{"name":"tH"},"transform":[{"filter":"datum.t=='△moswd2'"}],"mark":{"type":"area","color":"#00cccc"},"encoding":{"x":{"field":"x","type":"quantitative","axis":null},"y":{"field":"y","type":"quantitative","stack":null,"axis":null}}}]}
 ]},
 {"width":156,"height":1,"data":{"name":"one"},"mark":{"type":"point","opacity":0,"size":0,"strokeWidth":0},"encoding":{}},
 {"width":74,"height":57,"title":{"text":"(i)","dx":-8,"offset":6},"layer":[
  {"data":{"name":"one"},"mark":{"type":"rect","color":"#bcd4ea","stroke":"#9fb8d0","strokeWidth":0.5},"encoding":{"x":{"datum":-9,"scale":{"domain":[-74,0],"nice":false,"zero":false},"axis":null},"x2":{"datum":-3}}},
  {"data":{"name":"one"},"mark":{"type":"rule","color":"#bbb"},"encoding":{"x":{"datum":-1,"axis":null}}},
  {"data":{"name":"one"},"mark":{"type":"rule","color":"#444","strokeWidth":1.5},"encoding":{"x":{"datum":-59,"axis":null}}},
  {"data":{"values":[{"t":"RNA-Seq"}]},"mark":{"type":"text","angle":270,"fontSize":9,"color":"#222"},"encoding":{"x":{"datum":-68,"axis":null},"text":{"field":"t"}}},
  {"data":{"name":"tracks"},"transform":[{"filter":"datum.t=='WT1'"}],"mark":{"type":"text","align":"right","font":"Liberation Serif","fontWeight":"bold","fontSize":9,"color":"#222"},"encoding":{"x":{"datum":-12,"axis":null},"y":{"field":"t","type":"nominal","scale":{"domain":["WT1","△mobre2","△mospp1","△moswd2"]},"axis":null},"text":{"field":"t"}}},
  {"data":{"name":"tracks"},"transform":[{"filter":"datum.t!='WT1'"}],"mark":{"type":"text","align":"right","font":"Liberation Serif","fontStyle":"italic","fontSize":10.5,"color":"#222"},"encoding":{"x":{"datum":-12,"axis":null},"y":{"field":"t","type":"nominal","axis":null},"text":{"field":"t"}}}
 ]},
 {"bounds":"flush","spacing":0,"vconcat":[
  {"width":155,"height":14.25,"layer":[{"data":{"name":"one"},"mark":{"type":"rule","color":"#0a1ab4","strokeWidth":1.5,"opacity":0.45},"encoding":{"x":{"datum":0,"scale":{"domain":[0,155],"nice":false,"zero":false},"axis":null},"x2":{"datum":155},"y":{"datum":0,"scale":{"domain":[0,14.25],"nice":false},"axis":null}}},{"data":{"name":"tI"},"transform":[{"filter":"datum.t=='WT1'"}],"mark":{"type":"area","color":"#0a1ab4"},"encoding":{"x":{"field":"x","type":"quantitative","axis":null},"y":{"field":"y","type":"quantitative","stack":null,"axis":null}}}]},
  {"width":155,"height":14.25,"layer":[{"data":{"name":"one"},"mark":{"type":"rule","color":"#d6146f","strokeWidth":1.5,"opacity":0.45},"encoding":{"x":{"datum":0,"scale":{"domain":[0,155],"nice":false,"zero":false},"axis":null},"x2":{"datum":155},"y":{"datum":0,"scale":{"domain":[0,14.25],"nice":false},"axis":null}}},{"data":{"name":"tI"},"transform":[{"filter":"datum.t=='△mobre2'"}],"mark":{"type":"area","color":"#d6146f"},"encoding":{"x":{"field":"x","type":"quantitative","axis":null},"y":{"field":"y","type":"quantitative","stack":null,"axis":null}}}]},
  {"width":155,"height":14.25,"layer":[{"data":{"name":"one"},"mark":{"type":"rule","color":"#66cc00","strokeWidth":1.5,"opacity":0.45},"encoding":{"x":{"datum":0,"scale":{"domain":[0,155],"nice":false,"zero":false},"axis":null},"x2":{"datum":155},"y":{"datum":0,"scale":{"domain":[0,14.25],"nice":false},"axis":null}}},{"data":{"name":"tI"},"transform":[{"filter":"datum.t=='△mospp1'"}],"mark":{"type":"area","color":"#66cc00"},"encoding":{"x":{"field":"x","type":"quantitative","axis":null},"y":{"field":"y","type":"quantitative","stack":null,"axis":null}}}]},
  {"width":155,"height":14.25,"layer":[{"data":{"name":"one"},"mark":{"type":"rule","color":"#00cccc","strokeWidth":1.5,"opacity":0.45},"encoding":{"x":{"datum":0,"scale":{"domain":[0,155],"nice":false,"zero":false},"axis":null},"x2":{"datum":155},"y":{"datum":0,"scale":{"domain":[0,14.25],"nice":false},"axis":null}}},{"data":{"name":"tI"},"transform":[{"filter":"datum.t=='△moswd2'"}],"mark":{"type":"area","color":"#00cccc"},"encoding":{"x":{"field":"x","type":"quantitative","axis":null},"y":{"field":"y","type":"quantitative","stack":null,"axis":null}}}]}
 ]}
]}]},
{"bounds":"flush","spacing":0,"vconcat":[{"width":1,"height":317,"data":{"name":"one"},"mark":{"type":"point","opacity":0,"size":0,"strokeWidth":0},"encoding":{}},{"bounds":"flush","spacing":0,"hconcat":[
 {"width":478,"height":1,"data":{"name":"one"},"mark":{"type":"point","opacity":0,"size":0,"strokeWidth":0},"encoding":{}},
 {"width":74,"height":56.4,"title":{"text":"(j)","dx":-15,"offset":4},"layer":[
  {"data":{"name":"one"},"mark":{"type":"rect","color":"#bcd4ea","stroke":"#9fb8d0","strokeWidth":0.5},"encoding":{"x":{"datum":-9,"scale":{"domain":[-74,0],"nice":false,"zero":false},"axis":null},"x2":{"datum":-3}}},
  {"data":{"name":"one"},"mark":{"type":"rule","color":"#bbb"},"encoding":{"x":{"datum":-1,"axis":null}}},
  {"data":{"name":"one"},"mark":{"type":"rule","color":"#222","strokeWidth":1.5},"encoding":{"x":{"datum":-59,"axis":null}}},
  {"data":{"values":[{"t":"RNA-Seq"}]},"mark":{"type":"text","angle":270,"fontSize":9,"color":"#222"},"encoding":{"x":{"datum":-68,"axis":null},"text":{"field":"t"}}},
  {"data":{"name":"tracks"},"transform":[{"filter":"datum.t=='WT1'"}],"mark":{"type":"text","align":"right","font":"Liberation Serif","fontWeight":"bold","fontSize":9,"color":"#222"},"encoding":{"x":{"datum":-11,"axis":null},"y":{"field":"t","type":"nominal","scale":{"domain":["WT1","△mobre2","△mospp1","△moswd2"]},"axis":null},"text":{"field":"t"}}},
  {"data":{"name":"tracks"},"transform":[{"filter":"datum.t!='WT1'"}],"mark":{"type":"text","align":"right","font":"Liberation Serif","fontStyle":"italic","fontSize":10.5,"color":"#222"},"encoding":{"x":{"datum":-11,"axis":null},"y":{"field":"t","type":"nominal","axis":null},"text":{"field":"t"}}}
 ]},
 {"bounds":"flush","spacing":0,"vconcat":[
  {"width":154,"height":14.1,"layer":[{"data":{"name":"one"},"mark":{"type":"rule","color":"#0a1ab4","strokeWidth":1.5,"opacity":0.45},"encoding":{"x":{"datum":0,"scale":{"domain":[0,154],"nice":false,"zero":false},"axis":null},"x2":{"datum":154},"y":{"datum":0,"scale":{"domain":[0,14.25],"nice":false},"axis":null}}},{"data":{"name":"tJ"},"transform":[{"filter":"datum.t=='WT1'"}],"mark":{"type":"area","color":"#0a1ab4"},"encoding":{"x":{"field":"x","type":"quantitative","axis":null},"y":{"field":"y","type":"quantitative","stack":null,"axis":null}}}]},
  {"width":154,"height":14.1,"layer":[{"data":{"name":"one"},"mark":{"type":"rule","color":"#d6146f","strokeWidth":1.5,"opacity":0.45},"encoding":{"x":{"datum":0,"scale":{"domain":[0,154],"nice":false,"zero":false},"axis":null},"x2":{"datum":154},"y":{"datum":0,"scale":{"domain":[0,14.25],"nice":false},"axis":null}}},{"data":{"name":"tJ"},"transform":[{"filter":"datum.t=='△mobre2'"}],"mark":{"type":"area","color":"#d6146f"},"encoding":{"x":{"field":"x","type":"quantitative","axis":null},"y":{"field":"y","type":"quantitative","stack":null,"axis":null}}}]},
  {"width":154,"height":14.1,"layer":[{"data":{"name":"one"},"mark":{"type":"rule","color":"#66cc00","strokeWidth":1.5,"opacity":0.45},"encoding":{"x":{"datum":0,"scale":{"domain":[0,154],"nice":false,"zero":false},"axis":null},"x2":{"datum":154},"y":{"datum":0,"scale":{"domain":[0,14.25],"nice":false},"axis":null}}},{"data":{"name":"tJ"},"transform":[{"filter":"datum.t=='△mospp1'"}],"mark":{"type":"area","color":"#66cc00"},"encoding":{"x":{"field":"x","type":"quantitative","axis":null},"y":{"field":"y","type":"quantitative","stack":null,"axis":null}}}]},
  {"width":154,"height":14.1,"layer":[{"data":{"name":"one"},"mark":{"type":"rule","color":"#00cccc","strokeWidth":1.5,"opacity":0.45},"encoding":{"x":{"datum":0,"scale":{"domain":[0,154],"nice":false,"zero":false},"axis":null},"x2":{"datum":154},"y":{"datum":0,"scale":{"domain":[0,14.25],"nice":false},"axis":null}}},{"data":{"name":"tJ"},"transform":[{"filter":"datum.t=='△moswd2'"}],"mark":{"type":"area","color":"#00cccc"},"encoding":{"x":{"field":"x","type":"quantitative","axis":null},"y":{"field":"y","type":"quantitative","stack":null,"axis":null}}}]}
 ]}
]}]},
{"bounds":"flush","spacing":0,"vconcat":[{"width":1,"height":376,"data":{"name":"one"},"mark":{"type":"point","opacity":0,"size":0,"strokeWidth":0},"encoding":{}},{"bounds":"flush","spacing":0,"hconcat":[
 {"width":74,"height":1,"data":{"name":"one"},"mark":{"type":"point","opacity":0,"size":0,"strokeWidth":0},"encoding":{}},
 {"width":138,"height":8,"layer":[
  {"data":{"values":[{"x":43,"x2":90}]},"mark":{"type":"rule","color":"#0a1ab4","strokeWidth":2.5},"encoding":{"x":{"field":"x","type":"quantitative","scale":{"domain":[0,138],"nice":false,"zero":false},"axis":null},"x2":{"field":"x2"}}},
  {"data":{"values":[{"x":51,"x2":81}]},"mark":{"type":"rule","color":"#0a1ab4","strokeWidth":5},"encoding":{"x":{"field":"x","type":"quantitative","axis":null},"x2":{"field":"x2"}}},
  {"data":{"values":[{"t":"MGG_03593"}]},"mark":{"type":"text","fontSize":8,"dy":10,"color":"#333"},"encoding":{"x":{"datum":66,"axis":null},"text":{"field":"t"}}}
 ]},
 {"width":92,"height":1,"data":{"name":"one"},"mark":{"type":"point","opacity":0,"size":0,"strokeWidth":0},"encoding":{}},
 {"width":155,"height":8,"layer":[
  {"data":{"values":[{"x":11,"x2":40},{"x":120,"x2":146}]},"mark":{"type":"rule","color":"#0a1ab4","strokeWidth":2.5},"encoding":{"x":{"field":"x","type":"quantitative","scale":{"domain":[0,155],"nice":false,"zero":false},"axis":null},"x2":{"field":"x2"}}},
  {"data":{"values":[{"x":82,"x2":89}]},"mark":{"type":"rule","color":"#6a74d0","strokeWidth":1},"encoding":{"x":{"field":"x","type":"quantitative","axis":null},"x2":{"field":"x2"}}},
  {"data":{"values":[{"x":40,"x2":82},{"x":89,"x2":120}]},"mark":{"type":"rule","color":"#0a1ab4","strokeWidth":5},"encoding":{"x":{"field":"x","type":"quantitative","axis":null},"x2":{"field":"x2"}}},
  {"data":{"values":[{"t":"MGG_09875"}]},"mark":{"type":"text","fontSize":8,"dy":10,"color":"#333"},"encoding":{"x":{"datum":79,"axis":null},"text":{"field":"t"}}}
 ]},
 {"width":93,"height":1,"data":{"name":"one"},"mark":{"type":"point","opacity":0,"size":0,"strokeWidth":0},"encoding":{}},
 {"width":154,"height":8,"layer":[
  {"data":{"values":[{"x":44,"x2":58},{"x":62,"x2":110}]},"mark":{"type":"rule","color":"#0a1ab4","strokeWidth":3},"encoding":{"x":{"field":"x","type":"quantitative","scale":{"domain":[0,154],"nice":false,"zero":false},"axis":null},"x2":{"field":"x2"}}},
  {"data":{"values":[{"t":"MGG_14719"}]},"mark":{"type":"text","fontSize":8,"dy":11,"color":"#333"},"encoding":{"x":{"datum":65,"axis":null},"text":{"field":"t"}}},
  {"data":{"values":[{"t":"(MoVelC)"}]},"mark":{"type":"text","font":"Liberation Serif","fontStyle":"italic","fontSize":8.5,"dy":19,"color":"#222"},"encoding":{"x":{"datum":65,"axis":null},"text":{"field":"t"}}}
 ]}
]}]},
{"bounds":"flush","spacing":0,"vconcat":[{"width":1,"height":465.4,"data":{"name":"one"},"mark":{"type":"point","opacity":0,"size":0,"strokeWidth":0},"encoding":{}},{"bounds":"flush","spacing":0,"hconcat":[
 {"width":447,"height":1,"title":{"text":"(k)","dx":2,"offset":13},"data":{"name":"one"},"mark":{"type":"point","opacity":0,"size":0,"strokeWidth":0},"encoding":{}},
 {"width":226,"height":1,"title":{"text":"P-value","anchor":"middle","fontStyle":"italic","fontWeight":"normal","fontSize":13,"offset":14,"dx":20,"color":"#222"},"data":{"name":"one"},"mark":{"type":"point","opacity":0,"size":0,"strokeWidth":0},"encoding":{}}
]}]},
{"bounds":"flush","spacing":0,"vconcat":[{"width":1,"height":465.4,"data":{"name":"one"},"mark":{"type":"point","opacity":0,"size":0,"strokeWidth":0},"encoding":{}},{"bounds":"flush","spacing":0,"hconcat":[
 {"width":447,"height":229.5,"title":{"text":"GO_Term","dx":21,"offset":2,"fontSize":12.8},"data":{"name":"go"},"transform":[{"filter":"datum.col=='MoBre2KO'"}],"encoding":{"x":{"field":"col","type":"nominal","bandPosition":0,"scale":{"type":"band","paddingInner":0,"paddingOuter":0},"axis":null},"y":{"field":"term","type":"nominal","scale":{"type":"band","domain":["Spore germination","Developmental process","Growth or development of symbiont on or near host","Multi-organism process","Biological regulation","Regulation of nitrogen compound metabolic process","Regulation of macromolecule biosynthetic process","Regulation of biosynthetic process","Regulation of cellular biosynthetic process","Rregulation of macromolecule metabolic process","Regulation of primary metabolic process","Regulation of cellular process","Regulation of cellular metabolic process","Regulation of metabolic process","Regulation of biological process"]},"axis":null},"text":{"field":"term"}},"layer":[
  {"transform":[{"filter":"datum.term!='Spore germination'"}],"mark":{"type":"text","align":"left","dx":21,"fontSize":12.8,"color":"#222"}},
  {"transform":[{"filter":"datum.term=='Spore germination'"}],"mark":{"type":"text","align":"left","dx":21,"fontSize":12.8,"fontWeight":"bold","color":"#111"}}
 ]},
 {"width":71,"height":229.5,"title":{"text":"MoBre2KO","dx":0,"offset":2,"fontSize":12.8},"data":{"name":"go"},"transform":[{"filter":"datum.col=='MoBre2KO'"}],"encoding":{"x":{"field":"col","type":"nominal","bandPosition":0,"scale":{"paddingInner":0,"paddingOuter":0},"axis":null},"y":{"field":"term","type":"nominal","sort":null,"axis":null}},"layer":[
  {"mark":"rect","encoding":{"x":{"field":"col","type":"nominal","axis":null},"color":{"field":"p","type":"quantitative","legend":null,"scale":{"domain":[0,0.05,0.18,0.42,0.57,0.67,0.74,0.76,0.84],"range":["#fa6b70","#fa6b70","#f98c90","#fbb9bc","#fbd6d9","#fcdee2","#fce9ec","#fdeff2","#ffffff"],"interpolate":"rgb"}}}},
  {"mark":{"type":"text","align":"left","dx":1,"fontSize":12.8,"color":"#222"},"encoding":{"text":{"field":"label"}}}
 ]},
 {"width":73,"height":229.5,"title":{"text":"MoSpp1KO","dx":1,"offset":2,"fontSize":12.8},"data":{"name":"go"},"transform":[{"filter":"datum.col=='MoSpp1KO'"}],"encoding":{"x":{"field":"col","type":"nominal","bandPosition":0,"scale":{"paddingInner":0,"paddingOuter":0},"axis":null},"y":{"field":"term","type":"nominal","sort":null,"axis":null}},"layer":[
  {"mark":"rect","encoding":{"x":{"field":"col","type":"nominal","axis":null},"color":{"field":"p","type":"quantitative","legend":null,"scale":{"domain":[0,0.05,0.18,0.42,0.57,0.67,0.74,0.76,0.84],"range":["#fa6b70","#fa6b70","#f98c90","#fbb9bc","#fbd6d9","#fcdee2","#fce9ec","#fdeff2","#ffffff"],"interpolate":"rgb"}}}},
  {"mark":{"type":"text","align":"left","dx":1,"fontSize":12.8,"color":"#222"},"encoding":{"text":{"field":"label"}}}
 ]},
 {"width":83,"height":229.5,"title":{"text":"MoSwd2KO","dx":5,"offset":2,"fontSize":12.8},"data":{"name":"go"},"transform":[{"filter":"datum.col=='MoSwd2KO'"}],"encoding":{"x":{"field":"col","type":"nominal","bandPosition":0,"scale":{"paddingInner":0,"paddingOuter":0},"axis":null},"y":{"field":"term","type":"nominal","sort":null,"axis":null}},"layer":[
  {"mark":"rect","encoding":{"x":{"field":"col","type":"nominal","axis":null},"color":{"field":"p","type":"quantitative","legend":null,"scale":{"domain":[0,0.05,0.18,0.42,0.57,0.67,0.74,0.76,0.84],"range":["#fa6b70","#fa6b70","#f98c90","#fbb9bc","#fbd6d9","#fcdee2","#fce9ec","#fdeff2","#ffffff"],"interpolate":"rgb"}}}},
  {"mark":{"type":"text","align":"left","dx":1,"fontSize":12.8,"color":"#222"},"encoding":{"text":{"field":"label"}}}
 ]}
]}]}
],
"config":{"view":{"stroke":null},"font":"Liberation Sans","axis":{"labelFont":"Liberation Sans","titleFont":"Liberation Sans","grid":false,"titleFontWeight":"normal","labelOverlap":false},"title":{"font":"Liberation Sans","fontWeight":"bold","fontSize":13,"anchor":"start","color":"#111","frame":"group"}}}
